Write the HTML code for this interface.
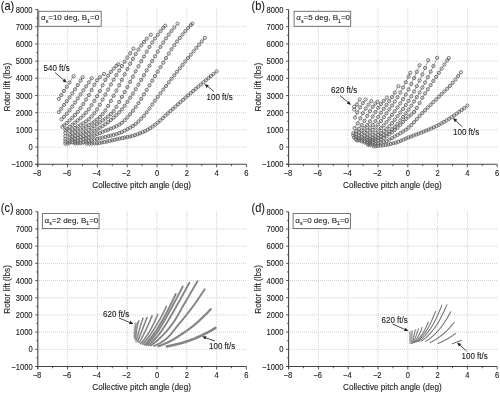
<!DOCTYPE html><html><head><meta charset="utf-8"><style>
html,body{margin:0;padding:0;background:#fff;overflow:hidden}
svg{display:block;filter:grayscale(100%) blur(0.3px)}
text{font-family:"Liberation Sans", sans-serif;fill:#1a1a1a;stroke:#1a1a1a;stroke-width:0.1}
.gr{stroke:#c8c8c8;stroke-width:0.85;stroke-dasharray:1 1}
.ax{stroke:#444;stroke-width:1.1}
.tk{stroke:#444;stroke-width:0.9}
.tl{font-size:7.6px}
.tt{font-size:8.2px}
.lb{font-size:11px}
.lg{font-size:8px}
.sub{font-size:5.2px}
.bx{fill:#fff;stroke:#666;stroke-width:0.9}
.ar{stroke:#333;stroke-width:0.9}
.mk circle{fill:none;stroke:#636363;stroke-width:0.9}
.ml{fill:none;stroke:#777;stroke-width:0.65}
.lc{fill:none;stroke:#858585;stroke-width:1.9;stroke-linecap:round}
.ld{fill:none;stroke:#707070;stroke-width:1.05;stroke-linecap:round}
.al{font-size:8px}
</style></head><body>
<svg width="500" height="393" viewBox="0 0 500 393">
<rect width="500" height="393" fill="#fff"/>
<g>
<line x1="67.60" y1="9" x2="67.60" y2="164.24" class="gr"/>
<line x1="97.40" y1="9" x2="97.40" y2="164.24" class="gr"/>
<line x1="127.20" y1="9" x2="127.20" y2="164.24" class="gr"/>
<line x1="157.00" y1="9" x2="157.00" y2="164.24" class="gr"/>
<line x1="186.80" y1="9" x2="186.80" y2="164.24" class="gr"/>
<line x1="216.60" y1="9" x2="216.60" y2="164.24" class="gr"/>
<line x1="37" y1="147.05" x2="246.40" y2="147.05" class="gr"/>
<line x1="37" y1="129.86" x2="246.40" y2="129.86" class="gr"/>
<line x1="37" y1="112.67" x2="246.40" y2="112.67" class="gr"/>
<line x1="37" y1="95.48" x2="246.40" y2="95.48" class="gr"/>
<line x1="37" y1="78.29" x2="246.40" y2="78.29" class="gr"/>
<line x1="37" y1="61.10" x2="246.40" y2="61.10" class="gr"/>
<line x1="37" y1="43.91" x2="246.40" y2="43.91" class="gr"/>
<line x1="37" y1="26.72" x2="246.40" y2="26.72" class="gr"/>
</g>
<g>
<line x1="318.40" y1="9" x2="318.40" y2="164.24" class="gr"/>
<line x1="348.20" y1="9" x2="348.20" y2="164.24" class="gr"/>
<line x1="378.00" y1="9" x2="378.00" y2="164.24" class="gr"/>
<line x1="407.80" y1="9" x2="407.80" y2="164.24" class="gr"/>
<line x1="437.60" y1="9" x2="437.60" y2="164.24" class="gr"/>
<line x1="467.40" y1="9" x2="467.40" y2="164.24" class="gr"/>
<line x1="288" y1="147.05" x2="497.20" y2="147.05" class="gr"/>
<line x1="288" y1="129.86" x2="497.20" y2="129.86" class="gr"/>
<line x1="288" y1="112.67" x2="497.20" y2="112.67" class="gr"/>
<line x1="288" y1="95.48" x2="497.20" y2="95.48" class="gr"/>
<line x1="288" y1="78.29" x2="497.20" y2="78.29" class="gr"/>
<line x1="288" y1="61.10" x2="497.20" y2="61.10" class="gr"/>
<line x1="288" y1="43.91" x2="497.20" y2="43.91" class="gr"/>
<line x1="288" y1="26.72" x2="497.20" y2="26.72" class="gr"/>
</g>
<g>
<line x1="67.60" y1="211" x2="67.60" y2="366.49" class="gr"/>
<line x1="97.40" y1="211" x2="97.40" y2="366.49" class="gr"/>
<line x1="127.20" y1="211" x2="127.20" y2="366.49" class="gr"/>
<line x1="157.00" y1="211" x2="157.00" y2="366.49" class="gr"/>
<line x1="186.80" y1="211" x2="186.80" y2="366.49" class="gr"/>
<line x1="216.60" y1="211" x2="216.60" y2="366.49" class="gr"/>
<line x1="37" y1="349.30" x2="246.40" y2="349.30" class="gr"/>
<line x1="37" y1="332.11" x2="246.40" y2="332.11" class="gr"/>
<line x1="37" y1="314.92" x2="246.40" y2="314.92" class="gr"/>
<line x1="37" y1="297.73" x2="246.40" y2="297.73" class="gr"/>
<line x1="37" y1="280.54" x2="246.40" y2="280.54" class="gr"/>
<line x1="37" y1="263.35" x2="246.40" y2="263.35" class="gr"/>
<line x1="37" y1="246.16" x2="246.40" y2="246.16" class="gr"/>
<line x1="37" y1="228.97" x2="246.40" y2="228.97" class="gr"/>
</g>
<g>
<line x1="318.40" y1="211" x2="318.40" y2="366.49" class="gr"/>
<line x1="348.20" y1="211" x2="348.20" y2="366.49" class="gr"/>
<line x1="378.00" y1="211" x2="378.00" y2="366.49" class="gr"/>
<line x1="407.80" y1="211" x2="407.80" y2="366.49" class="gr"/>
<line x1="437.60" y1="211" x2="437.60" y2="366.49" class="gr"/>
<line x1="467.40" y1="211" x2="467.40" y2="366.49" class="gr"/>
<line x1="288" y1="349.30" x2="497.20" y2="349.30" class="gr"/>
<line x1="288" y1="332.11" x2="497.20" y2="332.11" class="gr"/>
<line x1="288" y1="314.92" x2="497.20" y2="314.92" class="gr"/>
<line x1="288" y1="297.73" x2="497.20" y2="297.73" class="gr"/>
<line x1="288" y1="280.54" x2="497.20" y2="280.54" class="gr"/>
<line x1="288" y1="263.35" x2="497.20" y2="263.35" class="gr"/>
<line x1="288" y1="246.16" x2="497.20" y2="246.16" class="gr"/>
<line x1="288" y1="228.97" x2="497.20" y2="228.97" class="gr"/>
</g>
<g transform="translate(0,0)" class="mk">
<polyline class="ml" points="58.81,98.92 61.27,95.19 64.02,90.97 66.78,86.74 69.54,82.48 73.56,76.23"/>
<circle cx="58.81" cy="98.92" r="1.6"/>
<circle cx="61.27" cy="95.19" r="1.6"/>
<circle cx="64.02" cy="90.97" r="1.6"/>
<circle cx="66.78" cy="86.74" r="1.6"/>
<circle cx="69.54" cy="82.48" r="1.6"/>
<circle cx="73.56" cy="76.23" r="1.6"/>
<polyline class="ml" points="58.81,112.15 61.27,108.72 64.02,104.90 66.78,101.14 69.54,97.38 72.29,93.41 75.05,89.29 77.81,85.03 80.56,80.63 82.65,77.19"/>
<circle cx="58.81" cy="112.15" r="1.6"/>
<circle cx="61.27" cy="108.72" r="1.6"/>
<circle cx="64.02" cy="104.90" r="1.6"/>
<circle cx="66.78" cy="101.14" r="1.6"/>
<circle cx="69.54" cy="97.38" r="1.6"/>
<circle cx="72.29" cy="93.41" r="1.6"/>
<circle cx="75.05" cy="89.29" r="1.6"/>
<circle cx="77.81" cy="85.03" r="1.6"/>
<circle cx="80.56" cy="80.63" r="1.6"/>
<circle cx="82.65" cy="77.19" r="1.6"/>
<polyline class="ml" points="61.49,119.37 64.02,116.77 66.78,113.69 69.54,110.30 72.29,106.53 75.05,102.52 77.81,98.42 80.56,94.41 83.32,90.41 86.08,86.40 88.83,82.36 91.59,78.29"/>
<circle cx="61.49" cy="119.37" r="1.6"/>
<circle cx="64.02" cy="116.77" r="1.6"/>
<circle cx="66.78" cy="113.69" r="1.6"/>
<circle cx="69.54" cy="110.30" r="1.6"/>
<circle cx="72.29" cy="106.53" r="1.6"/>
<circle cx="75.05" cy="102.52" r="1.6"/>
<circle cx="77.81" cy="98.42" r="1.6"/>
<circle cx="80.56" cy="94.41" r="1.6"/>
<circle cx="83.32" cy="90.41" r="1.6"/>
<circle cx="86.08" cy="86.40" r="1.6"/>
<circle cx="88.83" cy="82.36" r="1.6"/>
<circle cx="91.59" cy="78.29" r="1.6"/>
<polyline class="ml" points="62.39,126.77 64.02,125.42 66.78,123.04 69.54,120.50 72.29,117.87 75.05,115.05 77.81,111.84 80.56,108.12 83.32,103.99 86.08,99.60 88.83,95.11 91.59,90.04 94.35,84.75 97.10,80.38 99.86,77.25 103.96,73.89"/>
<circle cx="62.39" cy="126.77" r="1.6"/>
<circle cx="64.02" cy="125.42" r="1.6"/>
<circle cx="66.78" cy="123.04" r="1.6"/>
<circle cx="69.54" cy="120.50" r="1.6"/>
<circle cx="72.29" cy="117.87" r="1.6"/>
<circle cx="75.05" cy="115.05" r="1.6"/>
<circle cx="77.81" cy="111.84" r="1.6"/>
<circle cx="80.56" cy="108.12" r="1.6"/>
<circle cx="83.32" cy="103.99" r="1.6"/>
<circle cx="86.08" cy="99.60" r="1.6"/>
<circle cx="88.83" cy="95.11" r="1.6"/>
<circle cx="91.59" cy="90.04" r="1.6"/>
<circle cx="94.35" cy="84.75" r="1.6"/>
<circle cx="97.10" cy="80.38" r="1.6"/>
<circle cx="99.86" cy="77.25" r="1.6"/>
<circle cx="103.96" cy="73.89" r="1.6"/>
<polyline class="ml" points="65.36,129.86 66.78,128.89 69.54,126.92 72.29,124.84 75.05,122.64 77.81,120.40 80.56,118.08 83.32,115.55 86.08,112.67 88.83,109.24 91.59,105.25 94.35,100.87 97.10,96.24 99.86,91.07 102.61,85.22 105.37,79.85 108.13,75.69 110.88,71.93 113.64,68.60 116.40,65.81 118.26,64.30"/>
<circle cx="65.36" cy="129.86" r="1.6"/>
<circle cx="66.78" cy="128.89" r="1.6"/>
<circle cx="69.54" cy="126.92" r="1.6"/>
<circle cx="72.29" cy="124.84" r="1.6"/>
<circle cx="75.05" cy="122.64" r="1.6"/>
<circle cx="77.81" cy="120.40" r="1.6"/>
<circle cx="80.56" cy="118.08" r="1.6"/>
<circle cx="83.32" cy="115.55" r="1.6"/>
<circle cx="86.08" cy="112.67" r="1.6"/>
<circle cx="88.83" cy="109.24" r="1.6"/>
<circle cx="91.59" cy="105.25" r="1.6"/>
<circle cx="94.35" cy="100.87" r="1.6"/>
<circle cx="97.10" cy="96.24" r="1.6"/>
<circle cx="99.86" cy="91.07" r="1.6"/>
<circle cx="102.61" cy="85.22" r="1.6"/>
<circle cx="105.37" cy="79.85" r="1.6"/>
<circle cx="108.13" cy="75.69" r="1.6"/>
<circle cx="110.88" cy="71.93" r="1.6"/>
<circle cx="113.64" cy="68.60" r="1.6"/>
<circle cx="116.40" cy="65.81" r="1.6"/>
<circle cx="118.26" cy="64.30" r="1.6"/>
<polyline class="ml" points="65.36,132.95 66.78,132.23 69.54,130.78 72.29,129.31 75.05,127.80 77.81,126.33 80.56,124.88 83.32,123.31 86.08,121.48 88.83,119.24 91.59,116.51 94.35,113.32 97.10,109.45 99.86,104.70 102.61,99.56 105.37,94.55 108.13,89.52 110.88,84.47 113.64,79.70 116.40,75.07 119.15,70.52 121.91,66.06 124.67,61.71 127.42,57.47 130.18,53.36 133.46,48.65"/>
<circle cx="65.36" cy="132.95" r="1.6"/>
<circle cx="69.54" cy="130.78" r="1.6"/>
<circle cx="72.29" cy="129.31" r="1.6"/>
<circle cx="75.05" cy="127.80" r="1.6"/>
<circle cx="77.81" cy="126.33" r="1.6"/>
<circle cx="80.56" cy="124.88" r="1.6"/>
<circle cx="83.32" cy="123.31" r="1.6"/>
<circle cx="86.08" cy="121.48" r="1.6"/>
<circle cx="88.83" cy="119.24" r="1.6"/>
<circle cx="91.59" cy="116.51" r="1.6"/>
<circle cx="94.35" cy="113.32" r="1.6"/>
<circle cx="97.10" cy="109.45" r="1.6"/>
<circle cx="99.86" cy="104.70" r="1.6"/>
<circle cx="102.61" cy="99.56" r="1.6"/>
<circle cx="105.37" cy="94.55" r="1.6"/>
<circle cx="108.13" cy="89.52" r="1.6"/>
<circle cx="110.88" cy="84.47" r="1.6"/>
<circle cx="113.64" cy="79.70" r="1.6"/>
<circle cx="116.40" cy="75.07" r="1.6"/>
<circle cx="119.15" cy="70.52" r="1.6"/>
<circle cx="121.91" cy="66.06" r="1.6"/>
<circle cx="124.67" cy="61.71" r="1.6"/>
<circle cx="127.42" cy="57.47" r="1.6"/>
<circle cx="130.18" cy="53.36" r="1.6"/>
<circle cx="133.46" cy="48.65" r="1.6"/>
<polyline class="ml" points="65.36,136.05 66.78,135.48 69.54,134.34 72.29,133.15 75.05,131.92 77.81,130.67 80.56,129.38 83.32,128.03 86.08,126.59 88.83,125.05 91.59,123.40 94.35,121.56 97.10,119.45 99.86,116.99 102.61,114.09 105.37,110.53 108.13,105.99 110.88,100.89 113.64,95.75 116.40,90.64 119.15,85.30 121.91,79.84 124.67,74.36 127.42,68.96 130.18,63.76 132.94,58.86 135.69,54.10 138.45,49.56 141.21,45.47 143.96,41.92 146.72,38.70 150.74,34.71"/>
<circle cx="65.36" cy="136.05" r="1.6"/>
<circle cx="69.54" cy="134.34" r="1.6"/>
<circle cx="72.29" cy="133.15" r="1.6"/>
<circle cx="75.05" cy="131.92" r="1.6"/>
<circle cx="77.81" cy="130.67" r="1.6"/>
<circle cx="80.56" cy="129.38" r="1.6"/>
<circle cx="83.32" cy="128.03" r="1.6"/>
<circle cx="86.08" cy="126.59" r="1.6"/>
<circle cx="88.83" cy="125.05" r="1.6"/>
<circle cx="91.59" cy="123.40" r="1.6"/>
<circle cx="94.35" cy="121.56" r="1.6"/>
<circle cx="97.10" cy="119.45" r="1.6"/>
<circle cx="99.86" cy="116.99" r="1.6"/>
<circle cx="102.61" cy="114.09" r="1.6"/>
<circle cx="105.37" cy="110.53" r="1.6"/>
<circle cx="108.13" cy="105.99" r="1.6"/>
<circle cx="110.88" cy="100.89" r="1.6"/>
<circle cx="113.64" cy="95.75" r="1.6"/>
<circle cx="116.40" cy="90.64" r="1.6"/>
<circle cx="119.15" cy="85.30" r="1.6"/>
<circle cx="121.91" cy="79.84" r="1.6"/>
<circle cx="124.67" cy="74.36" r="1.6"/>
<circle cx="127.42" cy="68.96" r="1.6"/>
<circle cx="130.18" cy="63.76" r="1.6"/>
<circle cx="132.94" cy="58.86" r="1.6"/>
<circle cx="135.69" cy="54.10" r="1.6"/>
<circle cx="138.45" cy="49.56" r="1.6"/>
<circle cx="141.21" cy="45.47" r="1.6"/>
<circle cx="143.96" cy="41.92" r="1.6"/>
<circle cx="146.72" cy="38.70" r="1.6"/>
<circle cx="150.74" cy="34.71" r="1.6"/>
<polyline class="ml" points="65.36,139.14 66.78,138.67 69.54,137.72 72.29,136.73 75.05,135.70 77.81,134.67 80.56,133.61 83.32,132.48 86.08,131.21 88.83,129.73 91.59,128.03 94.35,126.17 97.10,124.24 99.86,122.31 102.61,120.47 105.37,118.60 108.13,116.53 110.88,114.10 113.64,111.07 116.40,106.88 119.15,101.98 121.91,96.92 124.67,92.06 127.42,87.02 130.18,81.84 132.94,76.60 135.69,71.37 138.45,66.23 141.21,61.25 143.96,56.42 146.72,51.60 149.48,46.93 152.23,42.53 154.99,38.50 157.74,34.73 160.50,31.18 163.26,27.88 165.19,25.72"/>
<circle cx="65.36" cy="139.14" r="1.6"/>
<circle cx="69.54" cy="137.72" r="1.6"/>
<circle cx="72.29" cy="136.73" r="1.6"/>
<circle cx="75.05" cy="135.70" r="1.6"/>
<circle cx="77.81" cy="134.67" r="1.6"/>
<circle cx="80.56" cy="133.61" r="1.6"/>
<circle cx="83.32" cy="132.48" r="1.6"/>
<circle cx="86.08" cy="131.21" r="1.6"/>
<circle cx="88.83" cy="129.73" r="1.6"/>
<circle cx="91.59" cy="128.03" r="1.6"/>
<circle cx="94.35" cy="126.17" r="1.6"/>
<circle cx="97.10" cy="124.24" r="1.6"/>
<circle cx="99.86" cy="122.31" r="1.6"/>
<circle cx="102.61" cy="120.47" r="1.6"/>
<circle cx="105.37" cy="118.60" r="1.6"/>
<circle cx="108.13" cy="116.53" r="1.6"/>
<circle cx="110.88" cy="114.10" r="1.6"/>
<circle cx="113.64" cy="111.07" r="1.6"/>
<circle cx="116.40" cy="106.88" r="1.6"/>
<circle cx="119.15" cy="101.98" r="1.6"/>
<circle cx="121.91" cy="96.92" r="1.6"/>
<circle cx="124.67" cy="92.06" r="1.6"/>
<circle cx="127.42" cy="87.02" r="1.6"/>
<circle cx="130.18" cy="81.84" r="1.6"/>
<circle cx="132.94" cy="76.60" r="1.6"/>
<circle cx="135.69" cy="71.37" r="1.6"/>
<circle cx="138.45" cy="66.23" r="1.6"/>
<circle cx="141.21" cy="61.25" r="1.6"/>
<circle cx="143.96" cy="56.42" r="1.6"/>
<circle cx="146.72" cy="51.60" r="1.6"/>
<circle cx="149.48" cy="46.93" r="1.6"/>
<circle cx="152.23" cy="42.53" r="1.6"/>
<circle cx="154.99" cy="38.50" r="1.6"/>
<circle cx="157.74" cy="34.73" r="1.6"/>
<circle cx="160.50" cy="31.18" r="1.6"/>
<circle cx="163.26" cy="27.88" r="1.6"/>
<circle cx="165.19" cy="25.72" r="1.6"/>
<polyline class="ml" points="65.36,141.55 66.78,141.17 69.54,140.42 72.29,139.63 75.05,138.80 77.81,137.96 80.56,137.10 83.32,136.18 86.08,135.14 88.83,133.95 91.59,132.61 94.35,131.14 97.10,129.54 99.86,127.85 102.61,126.06 105.37,124.18 108.13,122.17 110.88,120.00 113.64,117.67 116.40,115.14 119.15,112.40 121.91,109.35 124.67,105.77 127.42,101.84 130.18,97.72 132.94,93.55 135.69,89.18 138.45,84.62 141.21,79.92 143.96,75.17 146.72,70.41 149.48,65.71 152.23,61.07 154.99,56.33 157.74,51.57 160.50,46.92 163.26,42.50 166.01,38.42 168.77,34.58 171.53,30.92 174.28,27.47 177.56,23.64"/>
<circle cx="65.36" cy="141.55" r="1.6"/>
<circle cx="69.54" cy="140.42" r="1.6"/>
<circle cx="72.29" cy="139.63" r="1.6"/>
<circle cx="75.05" cy="138.80" r="1.6"/>
<circle cx="77.81" cy="137.96" r="1.6"/>
<circle cx="80.56" cy="137.10" r="1.6"/>
<circle cx="83.32" cy="136.18" r="1.6"/>
<circle cx="86.08" cy="135.14" r="1.6"/>
<circle cx="88.83" cy="133.95" r="1.6"/>
<circle cx="91.59" cy="132.61" r="1.6"/>
<circle cx="94.35" cy="131.14" r="1.6"/>
<circle cx="97.10" cy="129.54" r="1.6"/>
<circle cx="99.86" cy="127.85" r="1.6"/>
<circle cx="102.61" cy="126.06" r="1.6"/>
<circle cx="105.37" cy="124.18" r="1.6"/>
<circle cx="108.13" cy="122.17" r="1.6"/>
<circle cx="110.88" cy="120.00" r="1.6"/>
<circle cx="113.64" cy="117.67" r="1.6"/>
<circle cx="116.40" cy="115.14" r="1.6"/>
<circle cx="119.15" cy="112.40" r="1.6"/>
<circle cx="121.91" cy="109.35" r="1.6"/>
<circle cx="124.67" cy="105.77" r="1.6"/>
<circle cx="127.42" cy="101.84" r="1.6"/>
<circle cx="130.18" cy="97.72" r="1.6"/>
<circle cx="132.94" cy="93.55" r="1.6"/>
<circle cx="135.69" cy="89.18" r="1.6"/>
<circle cx="138.45" cy="84.62" r="1.6"/>
<circle cx="141.21" cy="79.92" r="1.6"/>
<circle cx="143.96" cy="75.17" r="1.6"/>
<circle cx="146.72" cy="70.41" r="1.6"/>
<circle cx="149.48" cy="65.71" r="1.6"/>
<circle cx="152.23" cy="61.07" r="1.6"/>
<circle cx="154.99" cy="56.33" r="1.6"/>
<circle cx="157.74" cy="51.57" r="1.6"/>
<circle cx="160.50" cy="46.92" r="1.6"/>
<circle cx="163.26" cy="42.50" r="1.6"/>
<circle cx="166.01" cy="38.42" r="1.6"/>
<circle cx="168.77" cy="34.58" r="1.6"/>
<circle cx="171.53" cy="30.92" r="1.6"/>
<circle cx="174.28" cy="27.47" r="1.6"/>
<circle cx="177.56" cy="23.64" r="1.6"/>
<polyline class="ml" points="65.36,143.61 66.78,143.34 69.54,142.79 72.29,142.19 75.05,141.55 77.81,140.88 80.56,140.16 83.32,139.39 86.08,138.55 88.83,137.61 91.59,136.57 94.35,135.45 97.10,134.28 99.86,133.09 102.61,131.90 105.37,130.75 108.13,129.68 110.88,128.61 113.64,127.47 116.40,126.19 119.15,124.68 121.91,122.77 124.67,120.21 127.42,117.33 130.18,114.20 132.94,110.74 135.69,107.03 138.45,103.12 141.21,98.91 143.96,94.39 146.72,89.89 149.48,85.34 152.23,80.76 154.99,76.19 157.74,71.63 160.50,67.11 163.26,62.64 166.01,58.09 168.77,53.56 171.53,49.23 174.28,45.25 177.04,41.51 179.80,37.90 182.55,34.43 185.31,31.13 188.07,28.02 190.82,25.12 192.31,23.64"/>
<circle cx="65.36" cy="143.61" r="1.6"/>
<circle cx="69.54" cy="142.79" r="1.6"/>
<circle cx="72.29" cy="142.19" r="1.6"/>
<circle cx="75.05" cy="141.55" r="1.6"/>
<circle cx="77.81" cy="140.88" r="1.6"/>
<circle cx="80.56" cy="140.16" r="1.6"/>
<circle cx="83.32" cy="139.39" r="1.6"/>
<circle cx="86.08" cy="138.55" r="1.6"/>
<circle cx="88.83" cy="137.61" r="1.6"/>
<circle cx="91.59" cy="136.57" r="1.6"/>
<circle cx="94.35" cy="135.45" r="1.6"/>
<circle cx="97.10" cy="134.28" r="1.6"/>
<circle cx="99.86" cy="133.09" r="1.6"/>
<circle cx="102.61" cy="131.90" r="1.6"/>
<circle cx="105.37" cy="130.75" r="1.6"/>
<circle cx="108.13" cy="129.68" r="1.6"/>
<circle cx="110.88" cy="128.61" r="1.6"/>
<circle cx="113.64" cy="127.47" r="1.6"/>
<circle cx="116.40" cy="126.19" r="1.6"/>
<circle cx="119.15" cy="124.68" r="1.6"/>
<circle cx="121.91" cy="122.77" r="1.6"/>
<circle cx="124.67" cy="120.21" r="1.6"/>
<circle cx="127.42" cy="117.33" r="1.6"/>
<circle cx="130.18" cy="114.20" r="1.6"/>
<circle cx="132.94" cy="110.74" r="1.6"/>
<circle cx="135.69" cy="107.03" r="1.6"/>
<circle cx="138.45" cy="103.12" r="1.6"/>
<circle cx="141.21" cy="98.91" r="1.6"/>
<circle cx="143.96" cy="94.39" r="1.6"/>
<circle cx="146.72" cy="89.89" r="1.6"/>
<circle cx="149.48" cy="85.34" r="1.6"/>
<circle cx="152.23" cy="80.76" r="1.6"/>
<circle cx="154.99" cy="76.19" r="1.6"/>
<circle cx="157.74" cy="71.63" r="1.6"/>
<circle cx="160.50" cy="67.11" r="1.6"/>
<circle cx="163.26" cy="62.64" r="1.6"/>
<circle cx="166.01" cy="58.09" r="1.6"/>
<circle cx="168.77" cy="53.56" r="1.6"/>
<circle cx="171.53" cy="49.23" r="1.6"/>
<circle cx="174.28" cy="45.25" r="1.6"/>
<circle cx="177.04" cy="41.51" r="1.6"/>
<circle cx="179.80" cy="37.90" r="1.6"/>
<circle cx="182.55" cy="34.43" r="1.6"/>
<circle cx="185.31" cy="31.13" r="1.6"/>
<circle cx="188.07" cy="28.02" r="1.6"/>
<circle cx="190.82" cy="25.12" r="1.6"/>
<circle cx="192.31" cy="23.64" r="1.6"/>
<polyline class="ml" points="67.60,143.61 69.54,143.61 72.29,143.57 75.05,143.51 77.81,143.42 80.56,143.24 83.32,142.51 86.08,141.63 88.83,140.94 91.59,140.27 94.35,139.62 97.10,138.97 99.86,138.30 102.61,137.61 105.37,136.91 108.13,136.24 110.88,135.55 113.64,134.83 116.40,134.03 119.15,133.14 121.91,132.06 124.67,130.71 127.42,129.22 130.18,127.67 132.94,125.95 135.69,123.95 138.45,121.54 141.21,118.74 143.96,115.68 146.72,112.30 149.48,108.47 152.23,104.48 154.99,100.59 157.74,96.90 160.50,93.23 163.26,89.58 166.01,85.96 168.77,82.36 171.53,78.80 174.28,75.26 177.04,71.75 179.80,68.27 182.55,64.82 185.31,61.40 188.07,58.00 190.82,54.62 193.58,51.28 196.34,47.95 199.09,44.66 201.85,41.39 204.83,37.89"/>
<circle cx="67.60" cy="143.61" r="1.6"/>
<circle cx="75.05" cy="143.51" r="1.6"/>
<circle cx="77.81" cy="143.42" r="1.6"/>
<circle cx="80.56" cy="143.24" r="1.6"/>
<circle cx="83.32" cy="142.51" r="1.6"/>
<circle cx="86.08" cy="141.63" r="1.6"/>
<circle cx="88.83" cy="140.94" r="1.6"/>
<circle cx="91.59" cy="140.27" r="1.6"/>
<circle cx="94.35" cy="139.62" r="1.6"/>
<circle cx="97.10" cy="138.97" r="1.6"/>
<circle cx="99.86" cy="138.30" r="1.6"/>
<circle cx="102.61" cy="137.61" r="1.6"/>
<circle cx="105.37" cy="136.91" r="1.6"/>
<circle cx="108.13" cy="136.24" r="1.6"/>
<circle cx="110.88" cy="135.55" r="1.6"/>
<circle cx="113.64" cy="134.83" r="1.6"/>
<circle cx="116.40" cy="134.03" r="1.6"/>
<circle cx="119.15" cy="133.14" r="1.6"/>
<circle cx="121.91" cy="132.06" r="1.6"/>
<circle cx="124.67" cy="130.71" r="1.6"/>
<circle cx="127.42" cy="129.22" r="1.6"/>
<circle cx="130.18" cy="127.67" r="1.6"/>
<circle cx="132.94" cy="125.95" r="1.6"/>
<circle cx="135.69" cy="123.95" r="1.6"/>
<circle cx="138.45" cy="121.54" r="1.6"/>
<circle cx="141.21" cy="118.74" r="1.6"/>
<circle cx="143.96" cy="115.68" r="1.6"/>
<circle cx="146.72" cy="112.30" r="1.6"/>
<circle cx="149.48" cy="108.47" r="1.6"/>
<circle cx="152.23" cy="104.48" r="1.6"/>
<circle cx="154.99" cy="100.59" r="1.6"/>
<circle cx="157.74" cy="96.90" r="1.6"/>
<circle cx="160.50" cy="93.23" r="1.6"/>
<circle cx="163.26" cy="89.58" r="1.6"/>
<circle cx="166.01" cy="85.96" r="1.6"/>
<circle cx="168.77" cy="82.36" r="1.6"/>
<circle cx="171.53" cy="78.80" r="1.6"/>
<circle cx="174.28" cy="75.26" r="1.6"/>
<circle cx="177.04" cy="71.75" r="1.6"/>
<circle cx="179.80" cy="68.27" r="1.6"/>
<circle cx="182.55" cy="64.82" r="1.6"/>
<circle cx="185.31" cy="61.40" r="1.6"/>
<circle cx="188.07" cy="58.00" r="1.6"/>
<circle cx="190.82" cy="54.62" r="1.6"/>
<circle cx="193.58" cy="51.28" r="1.6"/>
<circle cx="196.34" cy="47.95" r="1.6"/>
<circle cx="199.09" cy="44.66" r="1.6"/>
<circle cx="201.85" cy="41.39" r="1.6"/>
<circle cx="204.83" cy="37.89" r="1.6"/>
<polyline class="ml" points="73.56,143.70 76.69,143.69 79.22,143.68 81.75,143.66 84.29,143.63 86.82,143.61 89.35,143.57 91.89,143.51 94.42,143.42 96.95,143.28 99.49,142.94 102.02,142.48 104.55,142.02 107.08,141.51 109.62,140.95 112.15,140.36 114.68,139.76 117.22,139.16 119.75,138.59 122.28,138.06 124.82,137.56 127.35,137.06 129.88,136.51 132.41,135.87 134.95,135.13 137.48,134.29 140.01,133.34 142.55,132.29 145.08,131.12 147.61,129.75 150.15,128.17 152.68,126.44 155.21,124.59 157.74,122.66 160.28,120.50 162.81,118.16 165.34,115.73 167.88,113.35 170.41,111.06 172.94,108.79 175.48,106.52 178.01,104.26 180.54,102.01 183.07,99.77 185.61,97.55 188.14,95.35 190.67,93.16 193.21,90.99 195.74,88.82 198.27,86.66 200.81,84.52 203.34,82.39 205.87,80.26 208.40,78.15 210.94,76.06 213.47,73.97 216.60,71.41"/>
<circle cx="86.82" cy="143.61" r="1.6"/>
<circle cx="89.35" cy="143.57" r="1.6"/>
<circle cx="91.89" cy="143.51" r="1.6"/>
<circle cx="94.42" cy="143.42" r="1.6"/>
<circle cx="96.95" cy="143.28" r="1.6"/>
<circle cx="99.49" cy="142.94" r="1.6"/>
<circle cx="102.02" cy="142.48" r="1.6"/>
<circle cx="104.55" cy="142.02" r="1.6"/>
<circle cx="107.08" cy="141.51" r="1.6"/>
<circle cx="109.62" cy="140.95" r="1.6"/>
<circle cx="112.15" cy="140.36" r="1.6"/>
<circle cx="114.68" cy="139.76" r="1.6"/>
<circle cx="117.22" cy="139.16" r="1.6"/>
<circle cx="119.75" cy="138.59" r="1.6"/>
<circle cx="122.28" cy="138.06" r="1.6"/>
<circle cx="124.82" cy="137.56" r="1.6"/>
<circle cx="127.35" cy="137.06" r="1.6"/>
<circle cx="129.88" cy="136.51" r="1.6"/>
<circle cx="132.41" cy="135.87" r="1.6"/>
<circle cx="134.95" cy="135.13" r="1.6"/>
<circle cx="137.48" cy="134.29" r="1.6"/>
<circle cx="140.01" cy="133.34" r="1.6"/>
<circle cx="142.55" cy="132.29" r="1.6"/>
<circle cx="145.08" cy="131.12" r="1.6"/>
<circle cx="147.61" cy="129.75" r="1.6"/>
<circle cx="150.15" cy="128.17" r="1.6"/>
<circle cx="152.68" cy="126.44" r="1.6"/>
<circle cx="155.21" cy="124.59" r="1.6"/>
<circle cx="157.74" cy="122.66" r="1.6"/>
<circle cx="160.28" cy="120.50" r="1.6"/>
<circle cx="162.81" cy="118.16" r="1.6"/>
<circle cx="165.34" cy="115.73" r="1.6"/>
<circle cx="167.88" cy="113.35" r="1.6"/>
<circle cx="170.41" cy="111.06" r="1.6"/>
<circle cx="172.94" cy="108.79" r="1.6"/>
<circle cx="175.48" cy="106.52" r="1.6"/>
<circle cx="178.01" cy="104.26" r="1.6"/>
<circle cx="180.54" cy="102.01" r="1.6"/>
<circle cx="183.07" cy="99.77" r="1.6"/>
<circle cx="185.61" cy="97.55" r="1.6"/>
<circle cx="188.14" cy="95.35" r="1.6"/>
<circle cx="190.67" cy="93.16" r="1.6"/>
<circle cx="193.21" cy="90.99" r="1.6"/>
<circle cx="195.74" cy="88.82" r="1.6"/>
<circle cx="198.27" cy="86.66" r="1.6"/>
<circle cx="200.81" cy="84.52" r="1.6"/>
<circle cx="203.34" cy="82.39" r="1.6"/>
<circle cx="205.87" cy="80.26" r="1.6"/>
<circle cx="208.40" cy="78.15" r="1.6"/>
<circle cx="210.94" cy="76.06" r="1.6"/>
<circle cx="213.47" cy="73.97" r="1.6"/>
<circle cx="216.60" cy="71.41" r="1.6"/>
</g>
<g transform="translate(250.8,0)" class="mk">
<polyline class="ml" points="103.36,106.74"/>
<circle cx="103.36" cy="106.74" r="1.6"/>
<polyline class="ml" points="108.87,99.52 106.12,104.47 103.48,109.48"/>
<circle cx="108.87" cy="99.52" r="1.6"/>
<circle cx="106.12" cy="104.47" r="1.6"/>
<circle cx="103.48" cy="109.48" r="1.6"/>
<polyline class="ml" points="114.83,99.52 112.04,103.14 109.21,107.46 106.47,112.41 104.18,117.59"/>
<circle cx="114.83" cy="99.52" r="1.6"/>
<circle cx="112.04" cy="103.14" r="1.6"/>
<circle cx="109.21" cy="107.46" r="1.6"/>
<circle cx="106.47" cy="112.41" r="1.6"/>
<circle cx="104.18" cy="117.59" r="1.6"/>
<polyline class="ml" points="120.50,101.15 117.66,104.60 114.82,108.61 111.99,113.21 109.48,118.29 106.89,123.31 103.81,128.07"/>
<circle cx="120.50" cy="101.15" r="1.6"/>
<circle cx="117.66" cy="104.60" r="1.6"/>
<circle cx="114.82" cy="108.61" r="1.6"/>
<circle cx="111.99" cy="113.21" r="1.6"/>
<circle cx="109.48" cy="118.29" r="1.6"/>
<circle cx="106.89" cy="123.31" r="1.6"/>
<circle cx="103.81" cy="128.07" r="1.6"/>
<polyline class="ml" points="102.47,133.30 105.37,131.30 108.13,128.69 110.88,125.10 113.64,120.82 116.40,115.89 119.15,111.20 121.91,106.86 124.67,103.65 126.75,101.84"/>
<circle cx="102.47" cy="133.30" r="1.6"/>
<circle cx="105.37" cy="131.30" r="1.6"/>
<circle cx="108.13" cy="128.69" r="1.6"/>
<circle cx="110.88" cy="125.10" r="1.6"/>
<circle cx="113.64" cy="120.82" r="1.6"/>
<circle cx="116.40" cy="115.89" r="1.6"/>
<circle cx="119.15" cy="111.20" r="1.6"/>
<circle cx="121.91" cy="106.86" r="1.6"/>
<circle cx="124.67" cy="103.65" r="1.6"/>
<circle cx="126.75" cy="101.84" r="1.6"/>
<polyline class="ml" points="102.47,135.36 105.37,134.03 108.13,132.38 110.88,130.43 113.64,128.03 116.40,125.14 119.15,121.29 121.91,116.51 124.67,111.99 127.42,107.84 130.18,104.08 132.94,100.82 136.14,97.54"/>
<circle cx="102.47" cy="135.36" r="1.6"/>
<circle cx="105.37" cy="134.03" r="1.6"/>
<circle cx="108.13" cy="132.38" r="1.6"/>
<circle cx="110.88" cy="130.43" r="1.6"/>
<circle cx="113.64" cy="128.03" r="1.6"/>
<circle cx="116.40" cy="125.14" r="1.6"/>
<circle cx="119.15" cy="121.29" r="1.6"/>
<circle cx="121.91" cy="116.51" r="1.6"/>
<circle cx="124.67" cy="111.99" r="1.6"/>
<circle cx="127.42" cy="107.84" r="1.6"/>
<circle cx="130.18" cy="104.08" r="1.6"/>
<circle cx="132.94" cy="100.82" r="1.6"/>
<circle cx="136.14" cy="97.54" r="1.6"/>
<polyline class="ml" points="103.36,137.42 105.37,136.79 108.13,135.60 110.88,134.13 113.64,132.43 116.40,130.29 119.15,127.73 121.91,124.80 124.67,121.08 127.42,116.85 130.18,112.67 132.94,108.81 135.69,105.02 138.45,101.17 141.21,97.10 143.96,92.67 147.61,86.20"/>
<circle cx="103.36" cy="137.42" r="1.6"/>
<circle cx="105.37" cy="136.79" r="1.6"/>
<circle cx="108.13" cy="135.60" r="1.6"/>
<circle cx="110.88" cy="134.13" r="1.6"/>
<circle cx="113.64" cy="132.43" r="1.6"/>
<circle cx="116.40" cy="130.29" r="1.6"/>
<circle cx="119.15" cy="127.73" r="1.6"/>
<circle cx="121.91" cy="124.80" r="1.6"/>
<circle cx="124.67" cy="121.08" r="1.6"/>
<circle cx="127.42" cy="116.85" r="1.6"/>
<circle cx="130.18" cy="112.67" r="1.6"/>
<circle cx="132.94" cy="108.81" r="1.6"/>
<circle cx="135.69" cy="105.02" r="1.6"/>
<circle cx="138.45" cy="101.17" r="1.6"/>
<circle cx="141.21" cy="97.10" r="1.6"/>
<circle cx="143.96" cy="92.67" r="1.6"/>
<circle cx="147.61" cy="86.20" r="1.6"/>
<polyline class="ml" points="104.85,139.14 108.13,138.27 110.88,137.19 113.64,135.87 116.40,134.37 119.15,132.44 121.91,130.10 124.67,127.47 127.42,124.54 130.18,121.05 132.94,117.22 135.69,113.30 138.45,109.45 141.21,105.56 143.96,101.51 146.72,97.20 149.48,92.54 152.23,87.54 154.99,82.21 157.75,76.58 159.53,72.79"/>
<circle cx="104.85" cy="139.14" r="1.6"/>
<circle cx="108.13" cy="138.27" r="1.6"/>
<circle cx="110.88" cy="137.19" r="1.6"/>
<circle cx="113.64" cy="135.87" r="1.6"/>
<circle cx="116.40" cy="134.37" r="1.6"/>
<circle cx="119.15" cy="132.44" r="1.6"/>
<circle cx="121.91" cy="130.10" r="1.6"/>
<circle cx="124.67" cy="127.47" r="1.6"/>
<circle cx="127.42" cy="124.54" r="1.6"/>
<circle cx="130.18" cy="121.05" r="1.6"/>
<circle cx="132.94" cy="117.22" r="1.6"/>
<circle cx="135.69" cy="113.30" r="1.6"/>
<circle cx="138.45" cy="109.45" r="1.6"/>
<circle cx="141.21" cy="105.56" r="1.6"/>
<circle cx="143.96" cy="101.51" r="1.6"/>
<circle cx="146.72" cy="97.20" r="1.6"/>
<circle cx="149.48" cy="92.54" r="1.6"/>
<circle cx="152.23" cy="87.54" r="1.6"/>
<circle cx="154.99" cy="82.21" r="1.6"/>
<circle cx="157.75" cy="76.58" r="1.6"/>
<circle cx="159.53" cy="72.79" r="1.6"/>
<polyline class="ml" points="106.34,140.52 108.13,140.24 110.88,139.56 113.64,138.64 116.40,137.54 119.15,136.32 121.91,134.74 124.67,132.79 127.42,130.56 130.18,128.14 132.94,125.36 135.69,122.12 138.45,118.58 141.21,114.88 143.96,111.17 146.72,107.40 149.48,103.44 152.23,99.20 154.99,94.57 157.75,89.50 160.50,84.01 163.26,78.12 166.01,71.85 168.77,65.23"/>
<circle cx="106.34" cy="140.52" r="1.6"/>
<circle cx="108.13" cy="140.24" r="1.6"/>
<circle cx="110.88" cy="139.56" r="1.6"/>
<circle cx="113.64" cy="138.64" r="1.6"/>
<circle cx="116.40" cy="137.54" r="1.6"/>
<circle cx="119.15" cy="136.32" r="1.6"/>
<circle cx="121.91" cy="134.74" r="1.6"/>
<circle cx="124.67" cy="132.79" r="1.6"/>
<circle cx="127.42" cy="130.56" r="1.6"/>
<circle cx="130.18" cy="128.14" r="1.6"/>
<circle cx="132.94" cy="125.36" r="1.6"/>
<circle cx="135.69" cy="122.12" r="1.6"/>
<circle cx="138.45" cy="118.58" r="1.6"/>
<circle cx="141.21" cy="114.88" r="1.6"/>
<circle cx="143.96" cy="111.17" r="1.6"/>
<circle cx="146.72" cy="107.40" r="1.6"/>
<circle cx="149.48" cy="103.44" r="1.6"/>
<circle cx="152.23" cy="99.20" r="1.6"/>
<circle cx="154.99" cy="94.57" r="1.6"/>
<circle cx="157.75" cy="89.50" r="1.6"/>
<circle cx="160.50" cy="84.01" r="1.6"/>
<circle cx="163.26" cy="78.12" r="1.6"/>
<circle cx="166.01" cy="71.85" r="1.6"/>
<circle cx="168.77" cy="65.23" r="1.6"/>
<polyline class="ml" points="108.58,141.72 110.88,141.35 113.64,140.70 116.40,139.87 119.15,138.90 121.91,137.84 124.67,136.56 127.42,135.00 130.18,133.21 132.94,131.20 135.69,128.98 138.45,126.30 141.21,123.19 143.96,119.78 146.72,116.20 149.48,112.57 152.23,108.89 154.99,105.02 157.75,100.87 160.50,96.38 163.26,91.47 166.01,86.17 168.77,80.47 171.53,74.41 174.28,67.97 177.41,60.24"/>
<circle cx="110.88" cy="141.35" r="1.6"/>
<circle cx="113.64" cy="140.70" r="1.6"/>
<circle cx="116.40" cy="139.87" r="1.6"/>
<circle cx="119.15" cy="138.90" r="1.6"/>
<circle cx="121.91" cy="137.84" r="1.6"/>
<circle cx="124.67" cy="136.56" r="1.6"/>
<circle cx="127.42" cy="135.00" r="1.6"/>
<circle cx="130.18" cy="133.21" r="1.6"/>
<circle cx="132.94" cy="131.20" r="1.6"/>
<circle cx="135.69" cy="128.98" r="1.6"/>
<circle cx="138.45" cy="126.30" r="1.6"/>
<circle cx="141.21" cy="123.19" r="1.6"/>
<circle cx="143.96" cy="119.78" r="1.6"/>
<circle cx="146.72" cy="116.20" r="1.6"/>
<circle cx="149.48" cy="112.57" r="1.6"/>
<circle cx="152.23" cy="108.89" r="1.6"/>
<circle cx="154.99" cy="105.02" r="1.6"/>
<circle cx="157.75" cy="100.87" r="1.6"/>
<circle cx="160.50" cy="96.38" r="1.6"/>
<circle cx="163.26" cy="91.47" r="1.6"/>
<circle cx="166.01" cy="86.17" r="1.6"/>
<circle cx="168.77" cy="80.47" r="1.6"/>
<circle cx="171.53" cy="74.41" r="1.6"/>
<circle cx="174.28" cy="67.97" r="1.6"/>
<circle cx="177.41" cy="60.24" r="1.6"/>
<polyline class="ml" points="110.81,142.75 113.64,142.33 116.40,141.72 119.15,140.97 121.91,140.10 124.67,139.15 127.42,138.03 130.18,136.69 132.94,135.15 135.69,133.40 138.45,131.48 141.21,129.38 143.96,126.85 146.72,123.85 149.48,120.52 152.23,116.98 154.99,113.35 157.75,109.65 160.50,105.70 163.26,101.51 166.01,97.09 168.77,92.44 171.53,87.59 174.28,82.53 177.04,77.26 179.80,71.77 182.55,66.07 186.35,57.83"/>
<circle cx="113.64" cy="142.33" r="1.6"/>
<circle cx="116.40" cy="141.72" r="1.6"/>
<circle cx="119.15" cy="140.97" r="1.6"/>
<circle cx="121.91" cy="140.10" r="1.6"/>
<circle cx="124.67" cy="139.15" r="1.6"/>
<circle cx="127.42" cy="138.03" r="1.6"/>
<circle cx="130.18" cy="136.69" r="1.6"/>
<circle cx="132.94" cy="135.15" r="1.6"/>
<circle cx="135.69" cy="133.40" r="1.6"/>
<circle cx="138.45" cy="131.48" r="1.6"/>
<circle cx="141.21" cy="129.38" r="1.6"/>
<circle cx="143.96" cy="126.85" r="1.6"/>
<circle cx="146.72" cy="123.85" r="1.6"/>
<circle cx="149.48" cy="120.52" r="1.6"/>
<circle cx="152.23" cy="116.98" r="1.6"/>
<circle cx="154.99" cy="113.35" r="1.6"/>
<circle cx="157.75" cy="109.65" r="1.6"/>
<circle cx="160.50" cy="105.70" r="1.6"/>
<circle cx="163.26" cy="101.51" r="1.6"/>
<circle cx="166.01" cy="97.09" r="1.6"/>
<circle cx="168.77" cy="92.44" r="1.6"/>
<circle cx="171.53" cy="87.59" r="1.6"/>
<circle cx="174.28" cy="82.53" r="1.6"/>
<circle cx="177.04" cy="77.26" r="1.6"/>
<circle cx="179.80" cy="71.77" r="1.6"/>
<circle cx="182.55" cy="66.07" r="1.6"/>
<circle cx="186.35" cy="57.83" r="1.6"/>
<polyline class="ml" points="113.79,143.78 116.40,143.48 119.15,142.93 121.91,142.22 124.67,141.37 127.42,140.44 130.18,139.29 132.94,137.83 135.69,136.12 138.45,134.22 141.21,132.17 143.96,130.04 146.72,127.71 149.48,124.92 152.23,121.95 154.99,119.06 157.75,116.56 160.50,114.55 163.26,112.00 166.01,107.95 168.77,102.95 171.53,97.85 174.28,93.40 177.04,89.28 179.80,85.18 182.55,81.05 185.31,76.92 188.07,72.80 190.82,68.68 193.58,64.56 196.34,60.45 197.97,58.01"/>
<circle cx="116.40" cy="143.48" r="1.6"/>
<circle cx="119.15" cy="142.93" r="1.6"/>
<circle cx="121.91" cy="142.22" r="1.6"/>
<circle cx="124.67" cy="141.37" r="1.6"/>
<circle cx="127.42" cy="140.44" r="1.6"/>
<circle cx="130.18" cy="139.29" r="1.6"/>
<circle cx="132.94" cy="137.83" r="1.6"/>
<circle cx="135.69" cy="136.12" r="1.6"/>
<circle cx="138.45" cy="134.22" r="1.6"/>
<circle cx="141.21" cy="132.17" r="1.6"/>
<circle cx="143.96" cy="130.04" r="1.6"/>
<circle cx="146.72" cy="127.71" r="1.6"/>
<circle cx="149.48" cy="124.92" r="1.6"/>
<circle cx="152.23" cy="121.95" r="1.6"/>
<circle cx="154.99" cy="119.06" r="1.6"/>
<circle cx="157.75" cy="116.56" r="1.6"/>
<circle cx="160.50" cy="114.55" r="1.6"/>
<circle cx="163.26" cy="112.00" r="1.6"/>
<circle cx="166.01" cy="107.95" r="1.6"/>
<circle cx="168.77" cy="102.95" r="1.6"/>
<circle cx="171.53" cy="97.85" r="1.6"/>
<circle cx="174.28" cy="93.40" r="1.6"/>
<circle cx="177.04" cy="89.28" r="1.6"/>
<circle cx="179.80" cy="85.18" r="1.6"/>
<circle cx="182.55" cy="81.05" r="1.6"/>
<circle cx="185.31" cy="76.92" r="1.6"/>
<circle cx="188.07" cy="72.80" r="1.6"/>
<circle cx="190.82" cy="68.68" r="1.6"/>
<circle cx="193.58" cy="64.56" r="1.6"/>
<circle cx="196.34" cy="60.45" r="1.6"/>
<circle cx="197.97" cy="58.01" r="1.6"/>
<polyline class="ml" points="117.52,144.82 119.15,144.77 121.91,144.51 124.67,144.05 127.42,143.43 130.18,142.70 132.94,141.89 135.69,141.02 138.45,139.74 141.21,138.16 143.96,136.49 146.72,134.90 149.48,133.30 152.23,131.60 154.99,129.73 157.75,127.62 160.50,125.08 163.26,122.19 166.01,119.12 168.77,116.01 171.53,113.05 174.28,110.27 177.04,107.52 179.80,104.81 182.55,102.11 185.31,99.42 188.07,96.72 190.82,94.04 193.58,91.43 196.34,88.78 199.09,85.93 201.85,82.84 204.61,79.54 207.36,76.05 210.19,72.27"/>
<circle cx="117.52" cy="144.82" r="1.6"/>
<circle cx="119.15" cy="144.77" r="1.6"/>
<circle cx="121.91" cy="144.51" r="1.6"/>
<circle cx="124.67" cy="144.05" r="1.6"/>
<circle cx="127.42" cy="143.43" r="1.6"/>
<circle cx="130.18" cy="142.70" r="1.6"/>
<circle cx="132.94" cy="141.89" r="1.6"/>
<circle cx="135.69" cy="141.02" r="1.6"/>
<circle cx="138.45" cy="139.74" r="1.6"/>
<circle cx="141.21" cy="138.16" r="1.6"/>
<circle cx="143.96" cy="136.49" r="1.6"/>
<circle cx="146.72" cy="134.90" r="1.6"/>
<circle cx="149.48" cy="133.30" r="1.6"/>
<circle cx="152.23" cy="131.60" r="1.6"/>
<circle cx="154.99" cy="129.73" r="1.6"/>
<circle cx="157.75" cy="127.62" r="1.6"/>
<circle cx="160.50" cy="125.08" r="1.6"/>
<circle cx="163.26" cy="122.19" r="1.6"/>
<circle cx="166.01" cy="119.12" r="1.6"/>
<circle cx="168.77" cy="116.01" r="1.6"/>
<circle cx="171.53" cy="113.05" r="1.6"/>
<circle cx="174.28" cy="110.27" r="1.6"/>
<circle cx="177.04" cy="107.52" r="1.6"/>
<circle cx="179.80" cy="104.81" r="1.6"/>
<circle cx="182.55" cy="102.11" r="1.6"/>
<circle cx="185.31" cy="99.42" r="1.6"/>
<circle cx="188.07" cy="96.72" r="1.6"/>
<circle cx="190.82" cy="94.04" r="1.6"/>
<circle cx="193.58" cy="91.43" r="1.6"/>
<circle cx="196.34" cy="88.78" r="1.6"/>
<circle cx="199.09" cy="85.93" r="1.6"/>
<circle cx="201.85" cy="82.84" r="1.6"/>
<circle cx="204.61" cy="79.54" r="1.6"/>
<circle cx="207.36" cy="76.05" r="1.6"/>
<circle cx="210.19" cy="72.27" r="1.6"/>
<polyline class="ml" points="122.73,146.36 124.82,146.22 127.35,145.97 129.88,145.67 132.41,145.32 134.95,144.94 137.48,144.49 140.01,143.95 142.55,143.32 145.08,142.62 147.61,141.76 150.15,140.75 152.68,139.66 155.21,138.55 157.75,137.50 160.28,136.49 162.81,135.51 165.34,134.54 167.88,133.57 170.41,132.59 172.94,131.60 175.48,130.58 178.01,129.52 180.54,128.42 183.07,127.26 185.61,126.04 188.14,124.75 190.67,123.37 193.21,121.92 195.74,120.41 198.27,118.82 200.81,117.17 203.34,115.46 205.87,113.69 208.40,111.86 210.94,109.99 213.47,108.06 216.60,105.62"/>
<circle cx="122.73" cy="146.36" r="1.6"/>
<circle cx="124.82" cy="146.22" r="1.6"/>
<circle cx="127.35" cy="145.97" r="1.6"/>
<circle cx="129.88" cy="145.67" r="1.6"/>
<circle cx="132.41" cy="145.32" r="1.6"/>
<circle cx="134.95" cy="144.94" r="1.6"/>
<circle cx="137.48" cy="144.49" r="1.6"/>
<circle cx="140.01" cy="143.95" r="1.6"/>
<circle cx="142.55" cy="143.32" r="1.6"/>
<circle cx="145.08" cy="142.62" r="1.6"/>
<circle cx="147.61" cy="141.76" r="1.6"/>
<circle cx="150.15" cy="140.75" r="1.6"/>
<circle cx="152.68" cy="139.66" r="1.6"/>
<circle cx="155.21" cy="138.55" r="1.6"/>
<circle cx="157.75" cy="137.50" r="1.6"/>
<circle cx="160.28" cy="136.49" r="1.6"/>
<circle cx="162.81" cy="135.51" r="1.6"/>
<circle cx="165.34" cy="134.54" r="1.6"/>
<circle cx="167.88" cy="133.57" r="1.6"/>
<circle cx="170.41" cy="132.59" r="1.6"/>
<circle cx="172.94" cy="131.60" r="1.6"/>
<circle cx="175.48" cy="130.58" r="1.6"/>
<circle cx="178.01" cy="129.52" r="1.6"/>
<circle cx="180.54" cy="128.42" r="1.6"/>
<circle cx="183.07" cy="127.26" r="1.6"/>
<circle cx="185.61" cy="126.04" r="1.6"/>
<circle cx="188.14" cy="124.75" r="1.6"/>
<circle cx="190.67" cy="123.37" r="1.6"/>
<circle cx="193.21" cy="121.92" r="1.6"/>
<circle cx="195.74" cy="120.41" r="1.6"/>
<circle cx="198.27" cy="118.82" r="1.6"/>
<circle cx="200.81" cy="117.17" r="1.6"/>
<circle cx="203.34" cy="115.46" r="1.6"/>
<circle cx="205.87" cy="113.69" r="1.6"/>
<circle cx="208.40" cy="111.86" r="1.6"/>
<circle cx="210.94" cy="109.99" r="1.6"/>
<circle cx="213.47" cy="108.06" r="1.6"/>
<circle cx="216.60" cy="105.62" r="1.6"/>
</g>
<g transform="translate(0,202.25)">
<path d="M134.65,135.02 L134.67,134.71 L134.68,134.40 L134.70,134.10 L134.72,133.80 L134.73,133.50 L134.75,133.20 L134.77,132.90 L134.79,132.61 L134.80,132.31 L134.82,132.03 L134.84,131.74 L134.85,131.47 L134.87,131.19 L134.89,130.92 L134.90,130.66 L134.92,130.40 L134.94,130.15 L134.96,129.90 L134.97,129.66 L134.99,129.43 L135.01,129.20 L135.02,128.99 L135.04,128.78 L135.06,128.57 L135.07,128.38 L135.09,128.20 L135.11,128.02 L135.13,127.85 L135.14,127.68 L135.16,127.50 L135.18,127.33 L135.19,127.16 L135.21,126.99 L135.23,126.82 L135.24,126.65 L135.26,126.48 L135.28,126.31 L135.30,126.15 L135.31,125.99 L135.33,125.82 L135.35,125.66 L135.36,125.50 L135.38,125.35 L135.40,125.19 L135.41,125.04 L135.43,124.89 L135.45,124.74 L135.46,124.59 L135.48,124.45 L135.50,124.30 L135.52,124.16 L135.53,124.03 L135.55,123.89 L135.57,123.76 L135.58,123.63 L135.60,123.51 L135.62,123.38 L135.63,123.26 L135.65,123.15 L135.67,123.03 L135.69,122.92 L135.70,122.81 L135.72,122.71 L135.74,122.61 L135.75,122.52 L135.77,122.42 L135.79,122.34 L135.80,122.25 L135.82,122.17 L135.84,122.09 L135.86,122.02 L135.87,121.95 L135.89,121.89 L135.91,121.83 L135.92,121.78 L135.94,121.73 L135.96,121.68 L135.97,121.64 L135.99,121.61" class="lc" style="stroke-width:1.6"/>
<path d="M135.40,136.74 L135.44,136.32 L135.48,135.91 L135.53,135.50 L135.57,135.09 L135.61,134.68 L135.66,134.27 L135.70,133.87 L135.74,133.47 L135.79,133.08 L135.83,132.69 L135.87,132.31 L135.92,131.93 L135.96,131.57 L136.00,131.20 L136.05,130.85 L136.09,130.51 L136.13,130.17 L136.18,129.85 L136.22,129.54 L136.26,129.24 L136.31,128.95 L136.35,128.67 L136.39,128.40 L136.44,128.15 L136.48,127.91 L136.52,127.67 L136.57,127.42 L136.61,127.18 L136.65,126.94 L136.70,126.70 L136.74,126.47 L136.78,126.23 L136.83,125.99 L136.87,125.76 L136.91,125.53 L136.96,125.30 L137.00,125.07 L137.04,124.84 L137.09,124.62 L137.13,124.40 L137.17,124.18 L137.22,123.96 L137.26,123.75 L137.30,123.53 L137.35,123.33 L137.39,123.12 L137.43,122.92 L137.48,122.72 L137.52,122.52 L137.56,122.33 L137.61,122.14 L137.65,121.95 L137.69,121.77 L137.74,121.59 L137.78,121.41 L137.82,121.24 L137.87,121.07 L137.91,120.91 L137.95,120.75 L138.00,120.60 L138.04,120.45 L138.08,120.31 L138.13,120.17 L138.17,120.03 L138.21,119.90 L138.26,119.78 L138.30,119.66 L138.34,119.55 L138.39,119.44 L138.43,119.33 L138.47,119.24 L138.52,119.15 L138.56,119.06 L138.61,118.98 L138.65,118.91 L138.69,118.85 L138.74,118.79 L138.78,118.73 L138.82,118.69" class="lc" style="stroke-width:1.6"/>
<path d="M136.44,138.11 L136.52,137.77 L136.60,137.44 L136.69,137.10 L136.77,136.77 L136.85,136.43 L136.94,136.10 L137.02,135.77 L137.10,135.44 L137.18,135.11 L137.27,134.79 L137.35,134.46 L137.43,134.14 L137.52,133.81 L137.60,133.49 L137.68,133.17 L137.77,132.86 L137.85,132.54 L137.93,132.23 L138.01,131.92 L138.10,131.61 L138.18,131.30 L138.26,130.99 L138.35,130.69 L138.43,130.39 L138.51,130.09 L138.60,129.80 L138.68,129.50 L138.76,129.21 L138.84,128.92 L138.93,128.63 L139.01,128.35 L139.09,128.06 L139.18,127.78 L139.26,127.49 L139.34,127.21 L139.43,126.93 L139.51,126.65 L139.59,126.36 L139.67,126.09 L139.76,125.81 L139.84,125.53 L139.92,125.25 L140.01,124.98 L140.09,124.70 L140.17,124.43 L140.26,124.16 L140.34,123.89 L140.42,123.62 L140.50,123.35 L140.59,123.08 L140.67,122.82 L140.75,122.55 L140.84,122.29 L140.92,122.03 L141.00,121.76 L141.09,121.50 L141.17,121.25 L141.25,120.99 L141.33,120.73 L141.42,120.48 L141.50,120.23 L141.58,119.97 L141.67,119.72 L141.75,119.48 L141.83,119.23 L141.92,118.98 L142.00,118.74 L142.08,118.50 L142.16,118.26 L142.25,118.02 L142.33,117.78 L142.41,117.54 L142.50,117.31 L142.58,117.07 L142.66,116.84 L142.75,116.61 L142.83,116.39 L142.91,116.16 L142.99,115.94" class="lc" style="stroke-width:1.6"/>
<path d="M137.63,139.31 L137.75,139.01 L137.87,138.72 L137.99,138.42 L138.11,138.12 L138.22,137.82 L138.34,137.52 L138.46,137.21 L138.58,136.91 L138.70,136.61 L138.82,136.31 L138.94,136.01 L139.06,135.71 L139.17,135.41 L139.29,135.11 L139.41,134.81 L139.53,134.51 L139.65,134.20 L139.77,133.90 L139.89,133.60 L140.01,133.30 L140.13,133.00 L140.24,132.69 L140.36,132.39 L140.48,132.09 L140.60,131.79 L140.72,131.48 L140.84,131.18 L140.96,130.88 L141.08,130.57 L141.19,130.27 L141.31,129.97 L141.43,129.66 L141.55,129.36 L141.67,129.05 L141.79,128.75 L141.91,128.45 L142.03,128.14 L142.15,127.84 L142.26,127.53 L142.38,127.23 L142.50,126.92 L142.62,126.62 L142.74,126.31 L142.86,126.01 L142.98,125.70 L143.10,125.40 L143.21,125.09 L143.33,124.78 L143.45,124.48 L143.57,124.17 L143.69,123.87 L143.81,123.56 L143.93,123.25 L144.05,122.95 L144.17,122.64 L144.28,122.34 L144.40,122.03 L144.52,121.72 L144.64,121.42 L144.76,121.11 L144.88,120.80 L145.00,120.49 L145.12,120.19 L145.23,119.88 L145.35,119.57 L145.47,119.26 L145.59,118.95 L145.71,118.65 L145.83,118.34 L145.95,118.03 L146.07,117.72 L146.19,117.41 L146.30,117.10 L146.42,116.80 L146.54,116.49 L146.66,116.18 L146.78,115.87 L146.90,115.56 L147.02,115.25" class="lc" style="stroke-width:1.6"/>
<path d="M139.12,140.35 L139.28,140.07 L139.45,139.79 L139.61,139.50 L139.78,139.22 L139.94,138.94 L140.10,138.65 L140.27,138.36 L140.43,138.07 L140.60,137.78 L140.76,137.49 L140.92,137.19 L141.09,136.90 L141.25,136.60 L141.42,136.30 L141.58,136.00 L141.75,135.70 L141.91,135.40 L142.07,135.09 L142.24,134.78 L142.40,134.48 L142.57,134.17 L142.73,133.85 L142.89,133.54 L143.06,133.23 L143.22,132.91 L143.39,132.59 L143.55,132.27 L143.71,131.95 L143.88,131.63 L144.04,131.30 L144.21,130.98 L144.37,130.65 L144.53,130.32 L144.70,129.99 L144.86,129.65 L145.03,129.32 L145.19,128.98 L145.36,128.65 L145.52,128.31 L145.68,127.97 L145.85,127.63 L146.01,127.28 L146.18,126.94 L146.34,126.59 L146.50,126.25 L146.67,125.90 L146.83,125.55 L147.00,125.20 L147.16,124.84 L147.32,124.49 L147.49,124.13 L147.65,123.77 L147.82,123.41 L147.98,123.05 L148.14,122.69 L148.31,122.33 L148.47,121.96 L148.64,121.59 L148.80,121.23 L148.97,120.86 L149.13,120.48 L149.29,120.11 L149.46,119.74 L149.62,119.36 L149.79,118.98 L149.95,118.60 L150.11,118.22 L150.28,117.84 L150.44,117.46 L150.61,117.07 L150.77,116.68 L150.93,116.29 L151.10,115.90 L151.26,115.51 L151.43,115.12 L151.59,114.72 L151.75,114.33 L151.92,113.93 L152.08,113.53" class="lc" style="stroke-width:1.6"/>
<path d="M140.61,141.21 L140.83,140.99 L141.04,140.77 L141.26,140.55 L141.48,140.32 L141.69,140.09 L141.91,139.85 L142.13,139.61 L142.35,139.36 L142.56,139.11 L142.78,138.86 L143.00,138.60 L143.21,138.34 L143.43,138.08 L143.65,137.81 L143.86,137.53 L144.08,137.26 L144.30,136.98 L144.51,136.69 L144.73,136.41 L144.95,136.11 L145.16,135.82 L145.38,135.52 L145.60,135.22 L145.82,134.92 L146.03,134.61 L146.25,134.30 L146.47,133.98 L146.68,133.66 L146.90,133.34 L147.12,133.02 L147.33,132.69 L147.55,132.36 L147.77,132.03 L147.98,131.70 L148.20,131.36 L148.42,131.01 L148.64,130.67 L148.85,130.31 L149.07,129.96 L149.29,129.59 L149.50,129.23 L149.72,128.86 L149.94,128.48 L150.15,128.10 L150.37,127.72 L150.59,127.33 L150.80,126.93 L151.02,126.53 L151.24,126.13 L151.45,125.72 L151.67,125.31 L151.89,124.90 L152.11,124.48 L152.32,124.05 L152.54,123.62 L152.76,123.19 L152.97,122.76 L153.19,122.31 L153.41,121.87 L153.62,121.42 L153.84,120.97 L154.06,120.51 L154.27,120.05 L154.49,119.58 L154.71,119.11 L154.93,118.64 L155.14,118.17 L155.36,117.68 L155.58,117.20 L155.79,116.71 L156.01,116.22 L156.23,115.72 L156.44,115.23 L156.66,114.72 L156.88,114.22 L157.09,113.71 L157.31,113.19 L157.53,112.68 L157.75,112.15" class="lc" style="stroke-width:1.6"/>
<path d="M142.40,141.89 L142.70,141.58 L143.01,141.27 L143.31,140.95 L143.61,140.63 L143.92,140.31 L144.22,139.98 L144.52,139.64 L144.83,139.30 L145.13,138.96 L145.43,138.61 L145.74,138.26 L146.04,137.91 L146.35,137.55 L146.65,137.18 L146.95,136.81 L147.26,136.44 L147.56,136.06 L147.86,135.68 L148.17,135.29 L148.47,134.90 L148.77,134.50 L149.08,134.10 L149.38,133.69 L149.69,133.28 L149.99,132.86 L150.29,132.44 L150.60,132.02 L150.90,131.59 L151.20,131.15 L151.51,130.71 L151.81,130.27 L152.12,129.83 L152.42,129.37 L152.72,128.92 L153.03,128.46 L153.33,128.00 L153.63,127.53 L153.94,127.06 L154.24,126.59 L154.54,126.11 L154.85,125.62 L155.15,125.14 L155.46,124.64 L155.76,124.15 L156.06,123.65 L156.37,123.14 L156.67,122.63 L156.97,122.12 L157.28,121.60 L157.58,121.08 L157.88,120.56 L158.19,120.03 L158.49,119.49 L158.80,118.95 L159.10,118.41 L159.40,117.86 L159.71,117.31 L160.01,116.76 L160.31,116.20 L160.62,115.63 L160.92,115.06 L161.22,114.49 L161.53,113.91 L161.83,113.33 L162.14,112.74 L162.44,112.15 L162.74,111.56 L163.05,110.96 L163.35,110.36 L163.65,109.75 L163.96,109.14 L164.26,108.52 L164.57,107.90 L164.87,107.27 L165.17,106.64 L165.48,106.01 L165.78,105.37 L166.08,104.72 L166.39,104.08" class="lc" style="stroke-width:1.6"/>
<path d="M144.34,142.41 L144.73,142.05 L145.13,141.69 L145.53,141.31 L145.93,140.93 L146.32,140.54 L146.72,140.13 L147.12,139.72 L147.52,139.31 L147.92,138.88 L148.31,138.45 L148.71,138.00 L149.11,137.55 L149.51,137.10 L149.91,136.63 L150.30,136.16 L150.70,135.68 L151.10,135.20 L151.50,134.71 L151.90,134.21 L152.29,133.71 L152.69,133.20 L153.09,132.68 L153.49,132.16 L153.89,131.62 L154.28,131.07 L154.68,130.51 L155.08,129.94 L155.48,129.36 L155.88,128.77 L156.27,128.16 L156.67,127.55 L157.07,126.92 L157.47,126.29 L157.87,125.65 L158.26,125.01 L158.66,124.35 L159.06,123.69 L159.46,123.02 L159.86,122.35 L160.25,121.67 L160.65,120.99 L161.05,120.30 L161.45,119.61 L161.85,118.92 L162.24,118.23 L162.64,117.53 L163.04,116.83 L163.44,116.12 L163.84,115.42 L164.23,114.70 L164.63,113.98 L165.03,113.26 L165.43,112.53 L165.82,111.79 L166.22,111.05 L166.62,110.30 L167.02,109.55 L167.42,108.79 L167.81,108.03 L168.21,107.26 L168.61,106.49 L169.01,105.71 L169.41,104.92 L169.80,104.13 L170.20,103.34 L170.60,102.54 L171.00,101.73 L171.40,100.92 L171.79,100.10 L172.19,99.28 L172.59,98.46 L172.99,97.62 L173.39,96.78 L173.78,95.94 L174.18,95.09 L174.58,94.24 L174.98,93.38 L175.38,92.52 L175.77,91.65" class="lc"/>
<path d="M146.27,142.75 L146.73,142.34 L147.20,141.92 L147.66,141.48 L148.12,141.03 L148.58,140.57 L149.04,140.10 L149.51,139.61 L149.97,139.12 L150.43,138.61 L150.89,138.10 L151.35,137.57 L151.82,137.03 L152.28,136.49 L152.74,135.93 L153.20,135.37 L153.67,134.80 L154.13,134.22 L154.59,133.63 L155.05,133.04 L155.51,132.43 L155.98,131.82 L156.44,131.18 L156.90,130.52 L157.36,129.85 L157.82,129.16 L158.29,128.45 L158.75,127.73 L159.21,127.00 L159.67,126.26 L160.13,125.51 L160.60,124.75 L161.06,123.98 L161.52,123.21 L161.98,122.44 L162.45,121.66 L162.91,120.88 L163.37,120.11 L163.83,119.33 L164.29,118.56 L164.76,117.77 L165.22,116.97 L165.68,116.17 L166.14,115.36 L166.60,114.55 L167.07,113.73 L167.53,112.91 L167.99,112.08 L168.45,111.24 L168.91,110.40 L169.38,109.56 L169.84,108.72 L170.30,107.87 L170.76,107.03 L171.22,106.18 L171.69,105.33 L172.15,104.48 L172.61,103.62 L173.07,102.77 L173.54,101.91 L174.00,101.05 L174.46,100.18 L174.92,99.32 L175.38,98.45 L175.85,97.58 L176.31,96.70 L176.77,95.83 L177.23,94.95 L177.69,94.06 L178.16,93.18 L178.62,92.29 L179.08,91.40 L179.54,90.51 L180.00,89.61 L180.47,88.71 L180.93,87.81 L181.39,86.90 L181.85,85.99 L182.31,85.08 L182.78,84.17" class="lc"/>
<path d="M148.36,143.01 L148.88,142.60 L149.40,142.18 L149.91,141.74 L150.43,141.29 L150.95,140.82 L151.47,140.35 L151.99,139.85 L152.51,139.35 L153.03,138.83 L153.54,138.30 L154.06,137.77 L154.58,137.21 L155.10,136.65 L155.62,136.08 L156.14,135.50 L156.66,134.91 L157.18,134.31 L157.69,133.70 L158.21,133.08 L158.73,132.43 L159.25,131.77 L159.77,131.08 L160.29,130.38 L160.81,129.66 L161.32,128.93 L161.84,128.18 L162.36,127.41 L162.88,126.64 L163.40,125.85 L163.92,125.06 L164.44,124.26 L164.96,123.45 L165.47,122.64 L165.99,121.82 L166.51,121.00 L167.03,120.18 L167.55,119.36 L168.07,118.53 L168.59,117.68 L169.10,116.82 L169.62,115.95 L170.14,115.07 L170.66,114.18 L171.18,113.28 L171.70,112.38 L172.22,111.46 L172.74,110.55 L173.25,109.63 L173.77,108.70 L174.29,107.78 L174.81,106.85 L175.33,105.93 L175.85,105.00 L176.37,104.08 L176.88,103.16 L177.40,102.24 L177.92,101.32 L178.44,100.39 L178.96,99.47 L179.48,98.54 L180.00,97.61 L180.52,96.67 L181.03,95.74 L181.55,94.80 L182.07,93.86 L182.59,92.92 L183.11,91.98 L183.63,91.03 L184.15,90.09 L184.66,89.14 L185.18,88.18 L185.70,87.23 L186.22,86.27 L186.74,85.32 L187.26,84.36 L187.78,83.39 L188.30,82.43 L188.81,81.46 L189.33,80.49" class="lc"/>
<path d="M150.74,143.27 L151.33,142.86 L151.93,142.44 L152.52,142.01 L153.11,141.57 L153.70,141.12 L154.30,140.66 L154.89,140.19 L155.48,139.70 L156.07,139.21 L156.66,138.71 L157.26,138.20 L157.85,137.67 L158.44,137.14 L159.03,136.60 L159.63,136.06 L160.22,135.50 L160.81,134.94 L161.40,134.36 L161.99,133.78 L162.59,133.18 L163.18,132.58 L163.77,131.96 L164.36,131.33 L164.96,130.69 L165.55,130.04 L166.14,129.38 L166.73,128.71 L167.32,128.02 L167.92,127.32 L168.51,126.61 L169.10,125.89 L169.69,125.15 L170.29,124.40 L170.88,123.63 L171.47,122.85 L172.06,122.06 L172.65,121.25 L173.25,120.42 L173.84,119.55 L174.43,118.65 L175.02,117.71 L175.62,116.75 L176.21,115.77 L176.80,114.76 L177.39,113.74 L177.98,112.70 L178.58,111.66 L179.17,110.60 L179.76,109.54 L180.35,108.47 L180.95,107.41 L181.54,106.35 L182.13,105.30 L182.72,104.25 L183.31,103.22 L183.91,102.21 L184.50,101.20 L185.09,100.19 L185.68,99.18 L186.28,98.17 L186.87,97.16 L187.46,96.15 L188.05,95.14 L188.64,94.13 L189.24,93.12 L189.83,92.11 L190.42,91.09 L191.01,90.08 L191.61,89.06 L192.20,88.05 L192.79,87.03 L193.38,86.02 L193.97,85.00 L194.57,83.99 L195.16,82.97 L195.75,81.95 L196.34,80.93 L196.94,79.91 L197.53,78.89" class="lc"/>
<path d="M154.02,143.61 L154.66,143.40 L155.30,143.17 L155.94,142.92 L156.59,142.64 L157.23,142.35 L157.87,142.03 L158.51,141.69 L159.15,141.34 L159.79,140.97 L160.43,140.58 L161.07,140.18 L161.72,139.77 L162.36,139.34 L163.00,138.89 L163.64,138.44 L164.28,137.98 L164.92,137.50 L165.56,137.02 L166.20,136.53 L166.85,136.00 L167.49,135.43 L168.13,134.82 L168.77,134.18 L169.41,133.50 L170.05,132.80 L170.69,132.07 L171.33,131.32 L171.98,130.55 L172.62,129.76 L173.26,128.96 L173.90,128.15 L174.54,127.33 L175.18,126.50 L175.82,125.68 L176.46,124.86 L177.11,124.04 L177.75,123.23 L178.39,122.43 L179.03,121.65 L179.67,120.88 L180.31,120.12 L180.95,119.35 L181.59,118.58 L182.24,117.81 L182.88,117.04 L183.52,116.26 L184.16,115.48 L184.80,114.70 L185.44,113.91 L186.08,113.11 L186.72,112.31 L187.37,111.50 L188.01,110.68 L188.65,109.85 L189.29,109.02 L189.93,108.17 L190.57,107.32 L191.21,106.46 L191.85,105.60 L192.50,104.73 L193.14,103.85 L193.78,102.96 L194.42,102.08 L195.06,101.18 L195.70,100.28 L196.34,99.37 L196.98,98.45 L197.63,97.53 L198.27,96.61 L198.91,95.67 L199.55,94.73 L200.19,93.78 L200.83,92.83 L201.47,91.87 L202.11,90.90 L202.76,89.93 L203.40,88.95 L204.04,87.96 L204.68,86.97" class="lc"/>
<path d="M158.49,143.87 L159.15,143.65 L159.81,143.43 L160.48,143.20 L161.14,142.96 L161.80,142.71 L162.46,142.45 L163.12,142.18 L163.79,141.91 L164.45,141.63 L165.11,141.34 L165.77,141.05 L166.43,140.75 L167.10,140.44 L167.76,140.13 L168.42,139.81 L169.08,139.49 L169.74,139.17 L170.41,138.83 L171.07,138.50 L171.73,138.15 L172.39,137.79 L173.05,137.42 L173.72,137.03 L174.38,136.63 L175.04,136.23 L175.70,135.81 L176.36,135.38 L177.03,134.95 L177.69,134.52 L178.35,134.08 L179.01,133.64 L179.67,133.20 L180.34,132.77 L181.00,132.34 L181.66,131.90 L182.32,131.47 L182.98,131.04 L183.65,130.60 L184.31,130.16 L184.97,129.72 L185.63,129.28 L186.29,128.83 L186.96,128.37 L187.62,127.91 L188.28,127.44 L188.94,126.97 L189.60,126.48 L190.27,125.99 L190.93,125.48 L191.59,124.97 L192.25,124.44 L192.91,123.91 L193.58,123.36 L194.24,122.81 L194.90,122.25 L195.56,121.68 L196.22,121.10 L196.89,120.52 L197.55,119.93 L198.21,119.33 L198.87,118.73 L199.53,118.12 L200.20,117.51 L200.86,116.89 L201.52,116.28 L202.18,115.65 L202.84,115.02 L203.51,114.38 L204.17,113.74 L204.83,113.08 L205.49,112.42 L206.15,111.75 L206.82,111.08 L207.48,110.40 L208.14,109.71 L208.80,109.01 L209.46,108.31 L210.13,107.61 L210.79,106.89" class="lc" style="stroke-width:2.2"/>
<path d="M166.83,144.13 L167.45,144.02 L168.06,143.91 L168.68,143.80 L169.29,143.68 L169.91,143.56 L170.52,143.44 L171.14,143.31 L171.75,143.18 L172.37,143.05 L172.98,142.92 L173.60,142.78 L174.21,142.64 L174.83,142.50 L175.44,142.35 L176.06,142.20 L176.67,142.05 L177.29,141.90 L177.90,141.75 L178.52,141.59 L179.13,141.43 L179.75,141.27 L180.36,141.11 L180.98,140.94 L181.59,140.77 L182.21,140.59 L182.82,140.41 L183.44,140.23 L184.05,140.04 L184.66,139.85 L185.28,139.66 L185.89,139.46 L186.51,139.26 L187.12,139.06 L187.74,138.85 L188.35,138.64 L188.97,138.43 L189.58,138.21 L190.20,137.99 L190.81,137.77 L191.43,137.55 L192.04,137.31 L192.66,137.08 L193.27,136.84 L193.89,136.59 L194.50,136.35 L195.12,136.09 L195.73,135.83 L196.35,135.57 L196.96,135.31 L197.58,135.04 L198.19,134.77 L198.81,134.49 L199.42,134.21 L200.04,133.93 L200.65,133.64 L201.27,133.36 L201.88,133.07 L202.50,132.77 L203.11,132.48 L203.73,132.18 L204.34,131.88 L204.96,131.57 L205.57,131.26 L206.19,130.94 L206.80,130.62 L207.41,130.30 L208.03,129.97 L208.64,129.63 L209.26,129.30 L209.87,128.96 L210.49,128.61 L211.10,128.27 L211.72,127.92 L212.33,127.56 L212.95,127.20 L213.56,126.84 L214.18,126.47 L214.79,126.11 L215.41,125.73" class="lc" style="stroke-width:2.6"/>
</g>
<g transform="translate(250.8,202.25)">
<path d="M159.24,141.21 L159.23,141.05 L159.23,140.90 L159.22,140.74 L159.22,140.58 L159.22,140.43 L159.21,140.27 L159.21,140.12 L159.21,139.96 L159.21,139.80 L159.20,139.64 L159.20,139.49 L159.20,139.33 L159.19,139.17 L159.19,139.02 L159.19,138.86 L159.18,138.70 L159.18,138.55 L159.18,138.39 L159.18,138.23 L159.17,138.08 L159.17,137.92 L159.17,137.76 L159.16,137.61 L159.16,137.45 L159.16,137.30 L159.15,137.14 L159.15,136.99 L159.14,136.83 L159.14,136.68 L159.14,136.52 L159.13,136.37 L159.13,136.22 L159.12,136.07 L159.12,135.91 L159.11,135.76 L159.11,135.61 L159.10,135.46 L159.10,135.31 L159.09,135.16 L159.09,135.02 L159.08,134.88 L159.07,134.74 L159.07,134.60 L159.06,134.47 L159.06,134.33 L159.05,134.20 L159.04,134.06 L159.03,133.93 L159.03,133.79 L159.02,133.66 L159.01,133.53 L159.01,133.40 L159.00,133.26 L158.99,133.13 L158.98,133.00 L158.97,132.87 L158.97,132.74 L158.96,132.61 L158.95,132.47 L158.94,132.34 L158.93,132.21 L158.93,132.08 L158.92,131.95 L158.91,131.82 L158.90,131.69 L158.89,131.56 L158.88,131.43 L158.88,131.30 L158.87,131.17 L158.86,131.04 L158.85,130.91 L158.84,130.78 L158.84,130.65 L158.83,130.52 L158.82,130.39 L158.81,130.26 L158.80,130.12 L158.80,129.99 L158.79,129.86" class="ld" style="stroke-width:0.8"/>
<path d="M159.98,141.21 L159.98,141.05 L159.99,140.89 L159.99,140.73 L160.00,140.57 L160.00,140.41 L160.00,140.25 L160.01,140.10 L160.01,139.94 L160.01,139.78 L160.02,139.62 L160.02,139.46 L160.03,139.31 L160.03,139.15 L160.03,138.99 L160.04,138.84 L160.04,138.68 L160.04,138.52 L160.05,138.36 L160.05,138.21 L160.06,138.05 L160.06,137.89 L160.06,137.74 L160.07,137.58 L160.07,137.42 L160.07,137.27 L160.08,137.11 L160.08,136.96 L160.09,136.80 L160.09,136.65 L160.09,136.49 L160.10,136.33 L160.10,136.18 L160.10,136.02 L160.11,135.87 L160.11,135.71 L160.12,135.56 L160.12,135.40 L160.12,135.25 L160.13,135.09 L160.13,134.94 L160.13,134.79 L160.14,134.63 L160.14,134.48 L160.15,134.32 L160.15,134.17 L160.15,134.02 L160.16,133.86 L160.16,133.71 L160.16,133.55 L160.17,133.40 L160.17,133.25 L160.18,133.09 L160.18,132.94 L160.18,132.79 L160.19,132.64 L160.19,132.48 L160.20,132.33 L160.20,132.18 L160.20,132.03 L160.21,131.87 L160.21,131.72 L160.21,131.57 L160.22,131.42 L160.22,131.27 L160.23,131.11 L160.23,130.96 L160.23,130.81 L160.24,130.66 L160.24,130.51 L160.24,130.36 L160.25,130.21 L160.25,130.05 L160.26,129.90 L160.26,129.75 L160.26,129.60 L160.27,129.45 L160.27,129.30 L160.27,129.15 L160.28,129.00" class="ld" style="stroke-width:0.8"/>
<path d="M160.72,141.21 L160.74,140.94 L160.75,140.68 L160.76,140.41 L160.78,140.15 L160.79,139.89 L160.80,139.63 L160.82,139.37 L160.83,139.11 L160.84,138.86 L160.86,138.61 L160.87,138.36 L160.88,138.12 L160.90,137.88 L160.91,137.65 L160.92,137.42 L160.94,137.20 L160.95,136.98 L160.96,136.77 L160.98,136.56 L160.99,136.36 L161.00,136.17 L161.02,135.98 L161.03,135.80 L161.04,135.62 L161.06,135.45 L161.07,135.27 L161.08,135.09 L161.09,134.92 L161.11,134.75 L161.12,134.57 L161.13,134.40 L161.15,134.23 L161.16,134.06 L161.17,133.89 L161.19,133.72 L161.20,133.56 L161.21,133.39 L161.23,133.23 L161.24,133.06 L161.25,132.90 L161.27,132.74 L161.28,132.59 L161.29,132.43 L161.31,132.27 L161.32,132.12 L161.33,131.97 L161.35,131.82 L161.36,131.67 L161.37,131.53 L161.39,131.38 L161.40,131.24 L161.41,131.10 L161.42,130.96 L161.44,130.83 L161.45,130.69 L161.46,130.56 L161.48,130.43 L161.49,130.31 L161.50,130.18 L161.52,130.06 L161.53,129.95 L161.54,129.83 L161.56,129.72 L161.57,129.61 L161.58,129.50 L161.60,129.39 L161.61,129.29 L161.62,129.19 L161.64,129.10 L161.65,129.00 L161.66,128.91 L161.68,128.83 L161.69,128.74 L161.70,128.66 L161.72,128.59 L161.73,128.51 L161.74,128.44 L161.75,128.38 L161.77,128.31" class="ld" style="stroke-width:0.8"/>
<path d="M161.17,141.03 L161.21,140.92 L161.25,140.80 L161.30,140.68 L161.34,140.56 L161.38,140.44 L161.42,140.31 L161.46,140.19 L161.50,140.06 L161.55,139.93 L161.59,139.80 L161.63,139.67 L161.67,139.54 L161.71,139.40 L161.75,139.27 L161.79,139.13 L161.84,138.99 L161.88,138.85 L161.92,138.71 L161.96,138.57 L162.00,138.43 L162.04,138.28 L162.08,138.14 L162.13,137.99 L162.17,137.84 L162.21,137.69 L162.25,137.54 L162.29,137.39 L162.33,137.24 L162.38,137.08 L162.42,136.93 L162.46,136.77 L162.50,136.61 L162.54,136.46 L162.58,136.30 L162.62,136.14 L162.67,135.98 L162.71,135.81 L162.75,135.65 L162.79,135.48 L162.83,135.32 L162.87,135.15 L162.91,134.98 L162.96,134.81 L163.00,134.64 L163.04,134.47 L163.08,134.29 L163.12,134.11 L163.16,133.93 L163.21,133.75 L163.25,133.57 L163.29,133.38 L163.33,133.20 L163.37,133.01 L163.41,132.82 L163.45,132.63 L163.50,132.44 L163.54,132.24 L163.58,132.05 L163.62,131.85 L163.66,131.65 L163.70,131.45 L163.74,131.25 L163.79,131.05 L163.83,130.85 L163.87,130.64 L163.91,130.43 L163.95,130.23 L163.99,130.02 L164.04,129.81 L164.08,129.59 L164.12,129.38 L164.16,129.16 L164.20,128.95 L164.24,128.73 L164.28,128.51 L164.33,128.29 L164.37,128.07 L164.41,127.85 L164.45,127.63" class="ld"/>
<path d="M161.77,140.86 L161.84,140.75 L161.92,140.64 L161.99,140.52 L162.06,140.41 L162.14,140.29 L162.21,140.16 L162.28,140.04 L162.36,139.92 L162.43,139.79 L162.50,139.66 L162.58,139.53 L162.65,139.39 L162.72,139.26 L162.80,139.12 L162.87,138.98 L162.94,138.84 L163.02,138.70 L163.09,138.56 L163.17,138.41 L163.24,138.26 L163.31,138.11 L163.39,137.96 L163.46,137.81 L163.53,137.65 L163.61,137.50 L163.68,137.34 L163.75,137.18 L163.83,137.02 L163.90,136.86 L163.97,136.70 L164.05,136.53 L164.12,136.37 L164.20,136.20 L164.27,136.03 L164.34,135.86 L164.42,135.69 L164.49,135.52 L164.56,135.35 L164.64,135.17 L164.71,135.00 L164.78,134.82 L164.86,134.64 L164.93,134.46 L165.00,134.27 L165.08,134.08 L165.15,133.89 L165.23,133.70 L165.30,133.50 L165.37,133.31 L165.45,133.11 L165.52,132.90 L165.59,132.70 L165.67,132.49 L165.74,132.28 L165.81,132.07 L165.89,131.86 L165.96,131.64 L166.03,131.43 L166.11,131.21 L166.18,130.98 L166.25,130.76 L166.33,130.54 L166.40,130.31 L166.48,130.08 L166.55,129.85 L166.62,129.61 L166.70,129.38 L166.77,129.14 L166.84,128.90 L166.92,128.66 L166.99,128.42 L167.06,128.18 L167.14,127.93 L167.21,127.68 L167.28,127.43 L167.36,127.18 L167.43,126.93 L167.51,126.68 L167.58,126.42" class="ld"/>
<path d="M162.66,140.52 L162.77,140.42 L162.88,140.31 L163.00,140.20 L163.11,140.09 L163.22,139.98 L163.33,139.86 L163.44,139.74 L163.55,139.62 L163.66,139.50 L163.77,139.37 L163.89,139.24 L164.00,139.11 L164.11,138.98 L164.22,138.84 L164.33,138.70 L164.44,138.56 L164.55,138.42 L164.67,138.27 L164.78,138.13 L164.89,137.98 L165.00,137.83 L165.11,137.67 L165.22,137.52 L165.33,137.36 L165.44,137.20 L165.56,137.04 L165.67,136.88 L165.78,136.71 L165.89,136.54 L166.00,136.38 L166.11,136.21 L166.22,136.04 L166.33,135.86 L166.45,135.69 L166.56,135.51 L166.67,135.34 L166.78,135.16 L166.89,134.98 L167.00,134.80 L167.11,134.61 L167.22,134.43 L167.34,134.24 L167.45,134.04 L167.56,133.85 L167.67,133.65 L167.78,133.45 L167.89,133.24 L168.00,133.03 L168.11,132.82 L168.23,132.60 L168.34,132.39 L168.45,132.16 L168.56,131.94 L168.67,131.71 L168.78,131.48 L168.89,131.25 L169.00,131.02 L169.12,130.78 L169.23,130.54 L169.34,130.29 L169.45,130.05 L169.56,129.80 L169.67,129.55 L169.78,129.29 L169.90,129.04 L170.01,128.78 L170.12,128.52 L170.23,128.25 L170.34,127.99 L170.45,127.72 L170.56,127.45 L170.67,127.18 L170.79,126.90 L170.90,126.63 L171.01,126.35 L171.12,126.07 L171.23,125.79 L171.34,125.50 L171.45,125.22" class="ld"/>
<path d="M163.71,140.17 L163.88,140.06 L164.06,139.94 L164.23,139.81 L164.41,139.69 L164.58,139.55 L164.76,139.42 L164.93,139.27 L165.11,139.13 L165.28,138.98 L165.46,138.82 L165.63,138.67 L165.81,138.51 L165.99,138.34 L166.16,138.17 L166.34,138.00 L166.51,137.82 L166.69,137.64 L166.86,137.46 L167.04,137.27 L167.21,137.09 L167.39,136.89 L167.56,136.70 L167.74,136.50 L167.91,136.30 L168.09,136.10 L168.27,135.89 L168.44,135.68 L168.62,135.47 L168.79,135.25 L168.97,135.04 L169.14,134.82 L169.32,134.60 L169.49,134.37 L169.67,134.15 L169.84,133.92 L170.02,133.69 L170.19,133.46 L170.37,133.22 L170.55,132.99 L170.72,132.75 L170.90,132.51 L171.07,132.26 L171.25,132.01 L171.42,131.75 L171.60,131.49 L171.77,131.22 L171.95,130.94 L172.12,130.66 L172.30,130.38 L172.48,130.09 L172.65,129.79 L172.83,129.50 L173.00,129.19 L173.18,128.88 L173.35,128.57 L173.53,128.25 L173.70,127.93 L173.88,127.60 L174.05,127.27 L174.23,126.94 L174.40,126.60 L174.58,126.26 L174.76,125.91 L174.93,125.56 L175.11,125.21 L175.28,124.85 L175.46,124.49 L175.63,124.12 L175.81,123.75 L175.98,123.38 L176.16,123.00 L176.33,122.63 L176.51,122.24 L176.68,121.86 L176.86,121.47 L177.04,121.08 L177.21,120.69 L177.39,120.29 L177.56,119.89" class="ld"/>
<path d="M165.19,139.83 L165.44,139.69 L165.69,139.53 L165.94,139.38 L166.18,139.21 L166.43,139.03 L166.68,138.85 L166.92,138.66 L167.17,138.46 L167.42,138.26 L167.67,138.05 L167.91,137.83 L168.16,137.60 L168.41,137.37 L168.65,137.14 L168.90,136.89 L169.15,136.64 L169.40,136.39 L169.64,136.13 L169.89,135.86 L170.14,135.59 L170.38,135.31 L170.63,135.03 L170.88,134.74 L171.12,134.45 L171.37,134.15 L171.62,133.85 L171.87,133.55 L172.11,133.24 L172.36,132.92 L172.61,132.61 L172.85,132.28 L173.10,131.96 L173.35,131.63 L173.60,131.30 L173.84,130.97 L174.09,130.63 L174.34,130.29 L174.58,129.95 L174.83,129.60 L175.08,129.25 L175.33,128.89 L175.57,128.53 L175.82,128.15 L176.07,127.76 L176.31,127.36 L176.56,126.96 L176.81,126.54 L177.05,126.12 L177.30,125.68 L177.55,125.24 L177.80,124.79 L178.04,124.33 L178.29,123.86 L178.54,123.38 L178.78,122.90 L179.03,122.40 L179.28,121.90 L179.53,121.39 L179.77,120.88 L180.02,120.36 L180.27,119.83 L180.51,119.29 L180.76,118.74 L181.01,118.19 L181.25,117.64 L181.50,117.07 L181.75,116.50 L182.00,115.93 L182.24,115.35 L182.49,114.76 L182.74,114.16 L182.98,113.57 L183.23,112.96 L183.48,112.35 L183.73,111.74 L183.97,111.12 L184.22,110.49 L184.47,109.87 L184.71,109.23" class="ld"/>
<path d="M167.43,139.31 L167.73,139.14 L168.03,138.96 L168.33,138.77 L168.63,138.57 L168.93,138.36 L169.23,138.15 L169.53,137.92 L169.83,137.69 L170.13,137.44 L170.43,137.19 L170.73,136.93 L171.03,136.66 L171.33,136.39 L171.63,136.11 L171.93,135.82 L172.23,135.52 L172.53,135.21 L172.83,134.90 L173.13,134.59 L173.43,134.26 L173.73,133.93 L174.03,133.60 L174.33,133.25 L174.63,132.91 L174.93,132.55 L175.23,132.19 L175.53,131.83 L175.83,131.46 L176.13,131.09 L176.43,130.71 L176.73,130.33 L177.03,129.94 L177.33,129.55 L177.63,129.16 L177.93,128.76 L178.23,128.36 L178.53,127.95 L178.83,127.54 L179.13,127.13 L179.43,126.72 L179.73,126.29 L180.03,125.85 L180.33,125.40 L180.62,124.94 L180.92,124.47 L181.22,123.98 L181.52,123.49 L181.82,122.98 L182.12,122.46 L182.42,121.94 L182.72,121.40 L183.02,120.85 L183.32,120.29 L183.62,119.72 L183.92,119.15 L184.22,118.56 L184.52,117.96 L184.82,117.36 L185.12,116.74 L185.42,116.12 L185.72,115.49 L186.02,114.85 L186.32,114.20 L186.62,113.55 L186.92,112.88 L187.22,112.21 L187.52,111.53 L187.82,110.85 L188.12,110.15 L188.42,109.45 L188.72,108.75 L189.02,108.03 L189.32,107.31 L189.62,106.59 L189.92,105.86 L190.22,105.12 L190.52,104.37 L190.82,103.63 L191.12,102.87" class="ld"/>
<path d="M170.41,138.80 L170.74,138.63 L171.06,138.45 L171.39,138.26 L171.72,138.06 L172.04,137.85 L172.37,137.63 L172.69,137.40 L173.02,137.17 L173.35,136.93 L173.67,136.68 L174.00,136.42 L174.33,136.15 L174.65,135.87 L174.98,135.59 L175.30,135.30 L175.63,135.00 L175.96,134.70 L176.28,134.39 L176.61,134.07 L176.94,133.75 L177.26,133.42 L177.59,133.08 L177.91,132.74 L178.24,132.39 L178.57,132.04 L178.89,131.68 L179.22,131.31 L179.55,130.95 L179.87,130.57 L180.20,130.19 L180.53,129.81 L180.85,129.43 L181.18,129.03 L181.50,128.64 L181.83,128.24 L182.16,127.84 L182.48,127.43 L182.81,127.03 L183.14,126.61 L183.46,126.20 L183.79,125.77 L184.11,125.34 L184.44,124.89 L184.77,124.42 L185.09,123.95 L185.42,123.47 L185.75,122.97 L186.07,122.46 L186.40,121.95 L186.72,121.42 L187.05,120.88 L187.38,120.33 L187.70,119.78 L188.03,119.21 L188.36,118.63 L188.68,118.04 L189.01,117.45 L189.33,116.84 L189.66,116.23 L189.99,115.61 L190.31,114.97 L190.64,114.33 L190.97,113.69 L191.29,113.03 L191.62,112.37 L191.95,111.69 L192.27,111.02 L192.60,110.33 L192.92,109.64 L193.25,108.94 L193.58,108.23 L193.90,107.52 L194.23,106.80 L194.56,106.07 L194.88,105.34 L195.21,104.60 L195.53,103.86 L195.86,103.11 L196.19,102.36" class="ld"/>
<path d="M174.88,138.97 L175.20,138.80 L175.51,138.63 L175.83,138.45 L176.15,138.26 L176.46,138.07 L176.78,137.87 L177.10,137.67 L177.41,137.45 L177.73,137.24 L178.05,137.01 L178.37,136.79 L178.68,136.55 L179.00,136.31 L179.32,136.07 L179.63,135.82 L179.95,135.56 L180.27,135.30 L180.58,135.04 L180.90,134.77 L181.22,134.50 L181.53,134.22 L181.85,133.93 L182.17,133.65 L182.48,133.36 L182.80,133.06 L183.12,132.76 L183.44,132.46 L183.75,132.15 L184.07,131.84 L184.39,131.53 L184.70,131.21 L185.02,130.89 L185.34,130.56 L185.65,130.24 L185.97,129.91 L186.29,129.57 L186.60,129.24 L186.92,128.90 L187.24,128.56 L187.55,128.22 L187.87,127.86 L188.19,127.51 L188.51,127.14 L188.82,126.76 L189.14,126.38 L189.46,125.99 L189.77,125.59 L190.09,125.19 L190.41,124.78 L190.72,124.36 L191.04,123.93 L191.36,123.50 L191.67,123.06 L191.99,122.61 L192.31,122.15 L192.62,121.69 L192.94,121.23 L193.26,120.75 L193.57,120.28 L193.89,119.79 L194.21,119.30 L194.53,118.80 L194.84,118.30 L195.16,117.79 L195.48,117.28 L195.79,116.76 L196.11,116.24 L196.43,115.71 L196.74,115.17 L197.06,114.63 L197.38,114.09 L197.69,113.54 L198.01,112.99 L198.33,112.43 L198.64,111.87 L198.96,111.30 L199.28,110.73 L199.60,110.15 L199.91,109.58" class="ld"/>
<path d="M179.35,140.17 L179.65,140.04 L179.95,139.91 L180.26,139.77 L180.56,139.62 L180.86,139.48 L181.16,139.33 L181.46,139.17 L181.76,139.02 L182.07,138.86 L182.37,138.69 L182.67,138.53 L182.97,138.36 L183.27,138.18 L183.57,138.01 L183.88,137.83 L184.18,137.65 L184.48,137.46 L184.78,137.27 L185.08,137.08 L185.39,136.89 L185.69,136.70 L185.99,136.50 L186.29,136.30 L186.59,136.09 L186.89,135.89 L187.20,135.68 L187.50,135.47 L187.80,135.26 L188.10,135.04 L188.40,134.82 L188.70,134.60 L189.01,134.38 L189.31,134.16 L189.61,133.93 L189.91,133.71 L190.21,133.48 L190.52,133.25 L190.82,133.01 L191.12,132.78 L191.42,132.54 L191.72,132.30 L192.02,132.06 L192.33,131.81 L192.63,131.56 L192.93,131.30 L193.23,131.04 L193.53,130.77 L193.84,130.50 L194.14,130.23 L194.44,129.95 L194.74,129.67 L195.04,129.38 L195.34,129.09 L195.65,128.80 L195.95,128.50 L196.25,128.20 L196.55,127.90 L196.85,127.59 L197.15,127.28 L197.46,126.96 L197.76,126.64 L198.06,126.32 L198.36,126.00 L198.66,125.67 L198.97,125.34 L199.27,125.00 L199.57,124.67 L199.87,124.33 L200.17,123.98 L200.47,123.64 L200.78,123.29 L201.08,122.94 L201.38,122.58 L201.68,122.23 L201.98,121.87 L202.28,121.51 L202.59,121.14 L202.89,120.77 L203.19,120.41" class="ld"/>
<path d="M187.25,141.21 L187.47,141.12 L187.69,141.03 L187.91,140.94 L188.13,140.85 L188.35,140.76 L188.57,140.67 L188.79,140.58 L189.01,140.48 L189.23,140.39 L189.45,140.29 L189.67,140.19 L189.90,140.09 L190.12,139.99 L190.34,139.89 L190.56,139.79 L190.78,139.69 L191.00,139.59 L191.22,139.48 L191.44,139.37 L191.66,139.27 L191.88,139.16 L192.10,139.05 L192.32,138.94 L192.54,138.83 L192.76,138.72 L192.98,138.61 L193.21,138.50 L193.43,138.38 L193.65,138.27 L193.87,138.15 L194.09,138.04 L194.31,137.92 L194.53,137.80 L194.75,137.68 L194.97,137.56 L195.19,137.44 L195.41,137.32 L195.63,137.20 L195.85,137.08 L196.07,136.96 L196.29,136.83 L196.52,136.71 L196.74,136.58 L196.96,136.45 L197.18,136.32 L197.40,136.19 L197.62,136.06 L197.84,135.93 L198.06,135.79 L198.28,135.65 L198.50,135.52 L198.72,135.38 L198.94,135.24 L199.16,135.10 L199.38,134.96 L199.60,134.81 L199.83,134.67 L200.05,134.53 L200.27,134.38 L200.49,134.23 L200.71,134.08 L200.93,133.93 L201.15,133.78 L201.37,133.63 L201.59,133.48 L201.81,133.32 L202.03,133.17 L202.25,133.01 L202.47,132.86 L202.69,132.70 L202.91,132.54 L203.14,132.38 L203.36,132.22 L203.58,132.06 L203.80,131.89 L204.02,131.73 L204.24,131.57 L204.46,131.40 L204.68,131.24" class="ld"/>
<path d="M201.40,141.55 L201.52,141.51 L201.63,141.46 L201.74,141.42 L201.85,141.37 L201.97,141.33 L202.08,141.29 L202.19,141.24 L202.31,141.20 L202.42,141.15 L202.53,141.11 L202.65,141.07 L202.76,141.02 L202.87,140.98 L202.99,140.93 L203.10,140.89 L203.21,140.85 L203.33,140.80 L203.44,140.76 L203.55,140.71 L203.67,140.67 L203.78,140.63 L203.89,140.58 L204.00,140.54 L204.12,140.49 L204.23,140.45 L204.34,140.41 L204.46,140.36 L204.57,140.32 L204.68,140.27 L204.80,140.23 L204.91,140.19 L205.02,140.14 L205.14,140.10 L205.25,140.05 L205.36,140.01 L205.48,139.97 L205.59,139.92 L205.70,139.88 L205.82,139.83 L205.93,139.79 L206.04,139.75 L206.15,139.70 L206.27,139.66 L206.38,139.62 L206.49,139.57 L206.61,139.53 L206.72,139.48 L206.83,139.44 L206.95,139.40 L207.06,139.35 L207.17,139.31 L207.29,139.26 L207.40,139.22 L207.51,139.18 L207.63,139.13 L207.74,139.09 L207.85,139.04 L207.97,139.00 L208.08,138.96 L208.19,138.91 L208.31,138.87 L208.42,138.82 L208.53,138.78 L208.64,138.74 L208.76,138.69 L208.87,138.65 L208.98,138.60 L209.10,138.56 L209.21,138.52 L209.32,138.47 L209.44,138.43 L209.55,138.38 L209.66,138.34 L209.78,138.30 L209.89,138.25 L210.00,138.21 L210.12,138.16 L210.23,138.12 L210.34,138.08" class="ld"/>
</g>
<g fill="none" stroke="#9a9a9a" stroke-width="0.6">
<circle cx="135.6" cy="323.5" r="1.0"/>
<circle cx="134.9" cy="326.6" r="1.0"/>
<circle cx="134.5" cy="329.7" r="1.0"/>
<circle cx="134.4" cy="332.8" r="1.0"/>
<circle cx="134.6" cy="335.9" r="1.0"/>
<circle cx="135.2" cy="338.8" r="1.0"/>
<circle cx="136.2" cy="341.6" r="1.0"/>
</g>
<g fill="#a8a8a8" opacity="0.55"><ellipse cx="411.3" cy="337.5" rx="2.0" ry="6.0"/></g>
<g transform="translate(0,0)">
<line x1="37.80" y1="9.53" x2="37.80" y2="166.74" class="ax"/>
<line x1="35.30" y1="164.24" x2="246.40" y2="164.24" class="ax"/>
<line x1="35.30" y1="164.24" x2="37.80" y2="164.24" class="tk"/>
<line x1="36.30" y1="155.65" x2="37.80" y2="155.65" class="tk"/>
<line x1="35.30" y1="147.05" x2="37.80" y2="147.05" class="tk"/>
<line x1="36.30" y1="138.46" x2="37.80" y2="138.46" class="tk"/>
<line x1="35.30" y1="129.86" x2="37.80" y2="129.86" class="tk"/>
<line x1="36.30" y1="121.27" x2="37.80" y2="121.27" class="tk"/>
<line x1="35.30" y1="112.67" x2="37.80" y2="112.67" class="tk"/>
<line x1="36.30" y1="104.08" x2="37.80" y2="104.08" class="tk"/>
<line x1="35.30" y1="95.48" x2="37.80" y2="95.48" class="tk"/>
<line x1="36.30" y1="86.89" x2="37.80" y2="86.89" class="tk"/>
<line x1="35.30" y1="78.29" x2="37.80" y2="78.29" class="tk"/>
<line x1="36.30" y1="69.70" x2="37.80" y2="69.70" class="tk"/>
<line x1="35.30" y1="61.10" x2="37.80" y2="61.10" class="tk"/>
<line x1="36.30" y1="52.51" x2="37.80" y2="52.51" class="tk"/>
<line x1="35.30" y1="43.91" x2="37.80" y2="43.91" class="tk"/>
<line x1="36.30" y1="35.32" x2="37.80" y2="35.32" class="tk"/>
<line x1="35.30" y1="26.72" x2="37.80" y2="26.72" class="tk"/>
<line x1="36.30" y1="18.12" x2="37.80" y2="18.12" class="tk"/>
<line x1="35.30" y1="9.53" x2="37.80" y2="9.53" class="tk"/>
<line x1="37.80" y1="164.24" x2="37.80" y2="167.24" class="tk"/>
<line x1="52.70" y1="164.24" x2="52.70" y2="166.04" class="tk"/>
<line x1="67.60" y1="164.24" x2="67.60" y2="167.24" class="tk"/>
<line x1="82.50" y1="164.24" x2="82.50" y2="166.04" class="tk"/>
<line x1="97.40" y1="164.24" x2="97.40" y2="167.24" class="tk"/>
<line x1="112.30" y1="164.24" x2="112.30" y2="166.04" class="tk"/>
<line x1="127.20" y1="164.24" x2="127.20" y2="167.24" class="tk"/>
<line x1="142.10" y1="164.24" x2="142.10" y2="166.04" class="tk"/>
<line x1="157.00" y1="164.24" x2="157.00" y2="167.24" class="tk"/>
<line x1="171.90" y1="164.24" x2="171.90" y2="166.04" class="tk"/>
<line x1="186.80" y1="164.24" x2="186.80" y2="167.24" class="tk"/>
<line x1="201.70" y1="164.24" x2="201.70" y2="166.04" class="tk"/>
<line x1="216.60" y1="164.24" x2="216.60" y2="167.24" class="tk"/>
<line x1="231.50" y1="164.24" x2="231.50" y2="166.04" class="tk"/>
<line x1="246.40" y1="164.24" x2="246.40" y2="167.24" class="tk"/>
<text transform="translate(32.6,167.29) scale(1,1.15)" class="tl" text-anchor="end">−1000</text>
<text transform="translate(32.6,150.10) scale(1,1.15)" class="tl" text-anchor="end">0</text>
<text transform="translate(32.6,132.91) scale(1,1.15)" class="tl" text-anchor="end">1000</text>
<text transform="translate(32.6,115.72) scale(1,1.15)" class="tl" text-anchor="end">2000</text>
<text transform="translate(32.6,98.53) scale(1,1.15)" class="tl" text-anchor="end">3000</text>
<text transform="translate(32.6,81.34) scale(1,1.15)" class="tl" text-anchor="end">4000</text>
<text transform="translate(32.6,64.15) scale(1,1.15)" class="tl" text-anchor="end">5000</text>
<text transform="translate(32.6,46.96) scale(1,1.15)" class="tl" text-anchor="end">6000</text>
<text transform="translate(32.6,29.77) scale(1,1.15)" class="tl" text-anchor="end">7000</text>
<text transform="translate(32.6,12.58) scale(1,1.15)" class="tl" text-anchor="end">8000</text>
<text transform="translate(37.00,176.2) scale(1,1.15)" class="tl" text-anchor="middle">−8</text>
<text transform="translate(66.80,176.2) scale(1,1.15)" class="tl" text-anchor="middle">−6</text>
<text transform="translate(96.60,176.2) scale(1,1.15)" class="tl" text-anchor="middle">−4</text>
<text transform="translate(126.40,176.2) scale(1,1.15)" class="tl" text-anchor="middle">−2</text>
<text transform="translate(157.00,176.2) scale(1,1.15)" class="tl" text-anchor="middle">0</text>
<text transform="translate(186.80,176.2) scale(1,1.15)" class="tl" text-anchor="middle">2</text>
<text transform="translate(216.60,176.2) scale(1,1.15)" class="tl" text-anchor="middle">4</text>
<text transform="translate(246.40,176.2) scale(1,1.15)" class="tl" text-anchor="middle">6</text>
<text transform="translate(141.6,187.7) scale(1,1.08)" class="tt" text-anchor="middle">Collective pitch angle (deg)</text>
<text transform="translate(9.9,87.2) rotate(-90) scale(1,1.08)" class="tt" text-anchor="middle">Rotor lift (lbs)</text>
<text transform="translate(0.8,9.7) scale(1,1.08)" class="lb">(a)</text>
<rect x="38.8" y="11.3" width="62.400000000000006" height="15.0" class="bx"/>
<text x="41.0" y="20.25" class="lg">α<tspan class="sub" dy="2.8">s</tspan><tspan dy="-2.8">=10 deg, B</tspan><tspan class="sub" dy="2.6">1</tspan><tspan dy="-2.6">=0</tspan></text>
</g>
<g transform="translate(250.8,0)">
<line x1="37.80" y1="9.53" x2="37.80" y2="166.74" class="ax"/>
<line x1="35.30" y1="164.24" x2="246.40" y2="164.24" class="ax"/>
<line x1="35.30" y1="164.24" x2="37.80" y2="164.24" class="tk"/>
<line x1="36.30" y1="155.65" x2="37.80" y2="155.65" class="tk"/>
<line x1="35.30" y1="147.05" x2="37.80" y2="147.05" class="tk"/>
<line x1="36.30" y1="138.46" x2="37.80" y2="138.46" class="tk"/>
<line x1="35.30" y1="129.86" x2="37.80" y2="129.86" class="tk"/>
<line x1="36.30" y1="121.27" x2="37.80" y2="121.27" class="tk"/>
<line x1="35.30" y1="112.67" x2="37.80" y2="112.67" class="tk"/>
<line x1="36.30" y1="104.08" x2="37.80" y2="104.08" class="tk"/>
<line x1="35.30" y1="95.48" x2="37.80" y2="95.48" class="tk"/>
<line x1="36.30" y1="86.89" x2="37.80" y2="86.89" class="tk"/>
<line x1="35.30" y1="78.29" x2="37.80" y2="78.29" class="tk"/>
<line x1="36.30" y1="69.70" x2="37.80" y2="69.70" class="tk"/>
<line x1="35.30" y1="61.10" x2="37.80" y2="61.10" class="tk"/>
<line x1="36.30" y1="52.51" x2="37.80" y2="52.51" class="tk"/>
<line x1="35.30" y1="43.91" x2="37.80" y2="43.91" class="tk"/>
<line x1="36.30" y1="35.32" x2="37.80" y2="35.32" class="tk"/>
<line x1="35.30" y1="26.72" x2="37.80" y2="26.72" class="tk"/>
<line x1="36.30" y1="18.12" x2="37.80" y2="18.12" class="tk"/>
<line x1="35.30" y1="9.53" x2="37.80" y2="9.53" class="tk"/>
<line x1="37.80" y1="164.24" x2="37.80" y2="167.24" class="tk"/>
<line x1="52.70" y1="164.24" x2="52.70" y2="166.04" class="tk"/>
<line x1="67.60" y1="164.24" x2="67.60" y2="167.24" class="tk"/>
<line x1="82.50" y1="164.24" x2="82.50" y2="166.04" class="tk"/>
<line x1="97.40" y1="164.24" x2="97.40" y2="167.24" class="tk"/>
<line x1="112.30" y1="164.24" x2="112.30" y2="166.04" class="tk"/>
<line x1="127.20" y1="164.24" x2="127.20" y2="167.24" class="tk"/>
<line x1="142.10" y1="164.24" x2="142.10" y2="166.04" class="tk"/>
<line x1="157.00" y1="164.24" x2="157.00" y2="167.24" class="tk"/>
<line x1="171.90" y1="164.24" x2="171.90" y2="166.04" class="tk"/>
<line x1="186.80" y1="164.24" x2="186.80" y2="167.24" class="tk"/>
<line x1="201.70" y1="164.24" x2="201.70" y2="166.04" class="tk"/>
<line x1="216.60" y1="164.24" x2="216.60" y2="167.24" class="tk"/>
<line x1="231.50" y1="164.24" x2="231.50" y2="166.04" class="tk"/>
<line x1="246.40" y1="164.24" x2="246.40" y2="167.24" class="tk"/>
<text transform="translate(32.6,167.29) scale(1,1.15)" class="tl" text-anchor="end">−1000</text>
<text transform="translate(32.6,150.10) scale(1,1.15)" class="tl" text-anchor="end">0</text>
<text transform="translate(32.6,132.91) scale(1,1.15)" class="tl" text-anchor="end">1000</text>
<text transform="translate(32.6,115.72) scale(1,1.15)" class="tl" text-anchor="end">2000</text>
<text transform="translate(32.6,98.53) scale(1,1.15)" class="tl" text-anchor="end">3000</text>
<text transform="translate(32.6,81.34) scale(1,1.15)" class="tl" text-anchor="end">4000</text>
<text transform="translate(32.6,64.15) scale(1,1.15)" class="tl" text-anchor="end">5000</text>
<text transform="translate(32.6,46.96) scale(1,1.15)" class="tl" text-anchor="end">6000</text>
<text transform="translate(32.6,29.77) scale(1,1.15)" class="tl" text-anchor="end">7000</text>
<text transform="translate(32.6,12.58) scale(1,1.15)" class="tl" text-anchor="end">8000</text>
<text transform="translate(37.00,176.2) scale(1,1.15)" class="tl" text-anchor="middle">−8</text>
<text transform="translate(66.80,176.2) scale(1,1.15)" class="tl" text-anchor="middle">−6</text>
<text transform="translate(96.60,176.2) scale(1,1.15)" class="tl" text-anchor="middle">−4</text>
<text transform="translate(126.40,176.2) scale(1,1.15)" class="tl" text-anchor="middle">−2</text>
<text transform="translate(157.00,176.2) scale(1,1.15)" class="tl" text-anchor="middle">0</text>
<text transform="translate(186.80,176.2) scale(1,1.15)" class="tl" text-anchor="middle">2</text>
<text transform="translate(216.60,176.2) scale(1,1.15)" class="tl" text-anchor="middle">4</text>
<text transform="translate(246.40,176.2) scale(1,1.15)" class="tl" text-anchor="middle">6</text>
<text transform="translate(141.6,187.7) scale(1,1.08)" class="tt" text-anchor="middle">Collective pitch angle (deg)</text>
<text transform="translate(9.9,87.2) rotate(-90) scale(1,1.08)" class="tt" text-anchor="middle">Rotor lift (lbs)</text>
<text transform="translate(0.8,9.7) scale(1,1.08)" class="lb">(b)</text>
<rect x="43.30000000000001" y="11.3" width="56.599999999999966" height="15.0" class="bx"/>
<text x="45.500000000000014" y="20.25" class="lg">α<tspan class="sub" dy="2.8">s</tspan><tspan dy="-2.8">=5 deg, B</tspan><tspan class="sub" dy="2.6">1</tspan><tspan dy="-2.6">=0</tspan></text>
</g>
<g transform="translate(0,202.25)">
<line x1="37.80" y1="9.53" x2="37.80" y2="166.74" class="ax"/>
<line x1="35.30" y1="164.24" x2="246.40" y2="164.24" class="ax"/>
<line x1="35.30" y1="164.24" x2="37.80" y2="164.24" class="tk"/>
<line x1="36.30" y1="155.65" x2="37.80" y2="155.65" class="tk"/>
<line x1="35.30" y1="147.05" x2="37.80" y2="147.05" class="tk"/>
<line x1="36.30" y1="138.46" x2="37.80" y2="138.46" class="tk"/>
<line x1="35.30" y1="129.86" x2="37.80" y2="129.86" class="tk"/>
<line x1="36.30" y1="121.27" x2="37.80" y2="121.27" class="tk"/>
<line x1="35.30" y1="112.67" x2="37.80" y2="112.67" class="tk"/>
<line x1="36.30" y1="104.08" x2="37.80" y2="104.08" class="tk"/>
<line x1="35.30" y1="95.48" x2="37.80" y2="95.48" class="tk"/>
<line x1="36.30" y1="86.89" x2="37.80" y2="86.89" class="tk"/>
<line x1="35.30" y1="78.29" x2="37.80" y2="78.29" class="tk"/>
<line x1="36.30" y1="69.70" x2="37.80" y2="69.70" class="tk"/>
<line x1="35.30" y1="61.10" x2="37.80" y2="61.10" class="tk"/>
<line x1="36.30" y1="52.51" x2="37.80" y2="52.51" class="tk"/>
<line x1="35.30" y1="43.91" x2="37.80" y2="43.91" class="tk"/>
<line x1="36.30" y1="35.32" x2="37.80" y2="35.32" class="tk"/>
<line x1="35.30" y1="26.72" x2="37.80" y2="26.72" class="tk"/>
<line x1="36.30" y1="18.12" x2="37.80" y2="18.12" class="tk"/>
<line x1="35.30" y1="9.53" x2="37.80" y2="9.53" class="tk"/>
<line x1="37.80" y1="164.24" x2="37.80" y2="167.24" class="tk"/>
<line x1="52.70" y1="164.24" x2="52.70" y2="166.04" class="tk"/>
<line x1="67.60" y1="164.24" x2="67.60" y2="167.24" class="tk"/>
<line x1="82.50" y1="164.24" x2="82.50" y2="166.04" class="tk"/>
<line x1="97.40" y1="164.24" x2="97.40" y2="167.24" class="tk"/>
<line x1="112.30" y1="164.24" x2="112.30" y2="166.04" class="tk"/>
<line x1="127.20" y1="164.24" x2="127.20" y2="167.24" class="tk"/>
<line x1="142.10" y1="164.24" x2="142.10" y2="166.04" class="tk"/>
<line x1="157.00" y1="164.24" x2="157.00" y2="167.24" class="tk"/>
<line x1="171.90" y1="164.24" x2="171.90" y2="166.04" class="tk"/>
<line x1="186.80" y1="164.24" x2="186.80" y2="167.24" class="tk"/>
<line x1="201.70" y1="164.24" x2="201.70" y2="166.04" class="tk"/>
<line x1="216.60" y1="164.24" x2="216.60" y2="167.24" class="tk"/>
<line x1="231.50" y1="164.24" x2="231.50" y2="166.04" class="tk"/>
<line x1="246.40" y1="164.24" x2="246.40" y2="167.24" class="tk"/>
<text transform="translate(32.6,167.29) scale(1,1.15)" class="tl" text-anchor="end">−1000</text>
<text transform="translate(32.6,150.10) scale(1,1.15)" class="tl" text-anchor="end">0</text>
<text transform="translate(32.6,132.91) scale(1,1.15)" class="tl" text-anchor="end">1000</text>
<text transform="translate(32.6,115.72) scale(1,1.15)" class="tl" text-anchor="end">2000</text>
<text transform="translate(32.6,98.53) scale(1,1.15)" class="tl" text-anchor="end">3000</text>
<text transform="translate(32.6,81.34) scale(1,1.15)" class="tl" text-anchor="end">4000</text>
<text transform="translate(32.6,64.15) scale(1,1.15)" class="tl" text-anchor="end">5000</text>
<text transform="translate(32.6,46.96) scale(1,1.15)" class="tl" text-anchor="end">6000</text>
<text transform="translate(32.6,29.77) scale(1,1.15)" class="tl" text-anchor="end">7000</text>
<text transform="translate(32.6,12.58) scale(1,1.15)" class="tl" text-anchor="end">8000</text>
<text transform="translate(37.00,176.2) scale(1,1.15)" class="tl" text-anchor="middle">−8</text>
<text transform="translate(66.80,176.2) scale(1,1.15)" class="tl" text-anchor="middle">−6</text>
<text transform="translate(96.60,176.2) scale(1,1.15)" class="tl" text-anchor="middle">−4</text>
<text transform="translate(126.40,176.2) scale(1,1.15)" class="tl" text-anchor="middle">−2</text>
<text transform="translate(157.00,176.2) scale(1,1.15)" class="tl" text-anchor="middle">0</text>
<text transform="translate(186.80,176.2) scale(1,1.15)" class="tl" text-anchor="middle">2</text>
<text transform="translate(216.60,176.2) scale(1,1.15)" class="tl" text-anchor="middle">4</text>
<text transform="translate(246.40,176.2) scale(1,1.15)" class="tl" text-anchor="middle">6</text>
<text transform="translate(141.6,187.7) scale(1,1.08)" class="tt" text-anchor="middle">Collective pitch angle (deg)</text>
<text transform="translate(9.9,87.2) rotate(-90) scale(1,1.08)" class="tt" text-anchor="middle">Rotor lift (lbs)</text>
<text transform="translate(0.8,9.7) scale(1,1.08)" class="lb">(c)</text>
<rect x="42.4" y="11.3" width="56.699999999999996" height="15.0" class="bx"/>
<text x="44.6" y="20.25" class="lg">α<tspan class="sub" dy="2.8">s</tspan><tspan dy="-2.8">=2 deg, B</tspan><tspan class="sub" dy="2.6">1</tspan><tspan dy="-2.6">=0</tspan></text>
</g>
<g transform="translate(250.8,202.25)">
<line x1="37.80" y1="9.53" x2="37.80" y2="166.74" class="ax"/>
<line x1="35.30" y1="164.24" x2="246.40" y2="164.24" class="ax"/>
<line x1="35.30" y1="164.24" x2="37.80" y2="164.24" class="tk"/>
<line x1="36.30" y1="155.65" x2="37.80" y2="155.65" class="tk"/>
<line x1="35.30" y1="147.05" x2="37.80" y2="147.05" class="tk"/>
<line x1="36.30" y1="138.46" x2="37.80" y2="138.46" class="tk"/>
<line x1="35.30" y1="129.86" x2="37.80" y2="129.86" class="tk"/>
<line x1="36.30" y1="121.27" x2="37.80" y2="121.27" class="tk"/>
<line x1="35.30" y1="112.67" x2="37.80" y2="112.67" class="tk"/>
<line x1="36.30" y1="104.08" x2="37.80" y2="104.08" class="tk"/>
<line x1="35.30" y1="95.48" x2="37.80" y2="95.48" class="tk"/>
<line x1="36.30" y1="86.89" x2="37.80" y2="86.89" class="tk"/>
<line x1="35.30" y1="78.29" x2="37.80" y2="78.29" class="tk"/>
<line x1="36.30" y1="69.70" x2="37.80" y2="69.70" class="tk"/>
<line x1="35.30" y1="61.10" x2="37.80" y2="61.10" class="tk"/>
<line x1="36.30" y1="52.51" x2="37.80" y2="52.51" class="tk"/>
<line x1="35.30" y1="43.91" x2="37.80" y2="43.91" class="tk"/>
<line x1="36.30" y1="35.32" x2="37.80" y2="35.32" class="tk"/>
<line x1="35.30" y1="26.72" x2="37.80" y2="26.72" class="tk"/>
<line x1="36.30" y1="18.12" x2="37.80" y2="18.12" class="tk"/>
<line x1="35.30" y1="9.53" x2="37.80" y2="9.53" class="tk"/>
<line x1="37.80" y1="164.24" x2="37.80" y2="167.24" class="tk"/>
<line x1="52.70" y1="164.24" x2="52.70" y2="166.04" class="tk"/>
<line x1="67.60" y1="164.24" x2="67.60" y2="167.24" class="tk"/>
<line x1="82.50" y1="164.24" x2="82.50" y2="166.04" class="tk"/>
<line x1="97.40" y1="164.24" x2="97.40" y2="167.24" class="tk"/>
<line x1="112.30" y1="164.24" x2="112.30" y2="166.04" class="tk"/>
<line x1="127.20" y1="164.24" x2="127.20" y2="167.24" class="tk"/>
<line x1="142.10" y1="164.24" x2="142.10" y2="166.04" class="tk"/>
<line x1="157.00" y1="164.24" x2="157.00" y2="167.24" class="tk"/>
<line x1="171.90" y1="164.24" x2="171.90" y2="166.04" class="tk"/>
<line x1="186.80" y1="164.24" x2="186.80" y2="167.24" class="tk"/>
<line x1="201.70" y1="164.24" x2="201.70" y2="166.04" class="tk"/>
<line x1="216.60" y1="164.24" x2="216.60" y2="167.24" class="tk"/>
<line x1="231.50" y1="164.24" x2="231.50" y2="166.04" class="tk"/>
<line x1="246.40" y1="164.24" x2="246.40" y2="167.24" class="tk"/>
<text transform="translate(32.6,167.29) scale(1,1.15)" class="tl" text-anchor="end">−1000</text>
<text transform="translate(32.6,150.10) scale(1,1.15)" class="tl" text-anchor="end">0</text>
<text transform="translate(32.6,132.91) scale(1,1.15)" class="tl" text-anchor="end">1000</text>
<text transform="translate(32.6,115.72) scale(1,1.15)" class="tl" text-anchor="end">2000</text>
<text transform="translate(32.6,98.53) scale(1,1.15)" class="tl" text-anchor="end">3000</text>
<text transform="translate(32.6,81.34) scale(1,1.15)" class="tl" text-anchor="end">4000</text>
<text transform="translate(32.6,64.15) scale(1,1.15)" class="tl" text-anchor="end">5000</text>
<text transform="translate(32.6,46.96) scale(1,1.15)" class="tl" text-anchor="end">6000</text>
<text transform="translate(32.6,29.77) scale(1,1.15)" class="tl" text-anchor="end">7000</text>
<text transform="translate(32.6,12.58) scale(1,1.15)" class="tl" text-anchor="end">8000</text>
<text transform="translate(37.00,176.2) scale(1,1.15)" class="tl" text-anchor="middle">−8</text>
<text transform="translate(66.80,176.2) scale(1,1.15)" class="tl" text-anchor="middle">−6</text>
<text transform="translate(96.60,176.2) scale(1,1.15)" class="tl" text-anchor="middle">−4</text>
<text transform="translate(126.40,176.2) scale(1,1.15)" class="tl" text-anchor="middle">−2</text>
<text transform="translate(157.00,176.2) scale(1,1.15)" class="tl" text-anchor="middle">0</text>
<text transform="translate(186.80,176.2) scale(1,1.15)" class="tl" text-anchor="middle">2</text>
<text transform="translate(216.60,176.2) scale(1,1.15)" class="tl" text-anchor="middle">4</text>
<text transform="translate(246.40,176.2) scale(1,1.15)" class="tl" text-anchor="middle">6</text>
<text transform="translate(141.6,187.7) scale(1,1.08)" class="tt" text-anchor="middle">Collective pitch angle (deg)</text>
<text transform="translate(9.9,87.2) rotate(-90) scale(1,1.08)" class="tt" text-anchor="middle">Rotor lift (lbs)</text>
<text transform="translate(0.8,9.7) scale(1,1.08)" class="lb">(d)</text>
<rect x="42.30000000000001" y="11.3" width="57.299999999999955" height="15.0" class="bx"/>
<text x="44.500000000000014" y="20.25" class="lg">α<tspan class="sub" dy="2.8">s</tspan><tspan dy="-2.8">=0 deg, B</tspan><tspan class="sub" dy="2.6">1</tspan><tspan dy="-2.6">=0</tspan></text>
</g>
<text transform="translate(43.5,70.90) scale(1,1.1)" class="al">540 ft/s</text>
<line x1="55.00" y1="72.50" x2="63.64" y2="80.04" class="ar"/><polygon points="66.80,82.80 62.49,81.36 64.79,78.72" fill="#222"/>
<text transform="translate(206.5,100.10) scale(1,1.1)" class="al">100 ft/s</text>
<line x1="214.00" y1="91.50" x2="207.80" y2="86.60" class="ar"/><polygon points="204.50,84.00 208.88,85.23 206.71,87.98" fill="#222"/>
<text transform="translate(331,93.10) scale(1,1.1)" class="al">620 ft/s</text>
<line x1="340.00" y1="95.50" x2="347.82" y2="102.25" class="ar"/><polygon points="351.00,105.00 346.68,103.58 348.97,100.93" fill="#222"/>
<text transform="translate(453,135.10) scale(1,1.1)" class="al">100 ft/s</text>
<line x1="462.50" y1="127.00" x2="456.05" y2="120.89" class="ar"/><polygon points="453.00,118.00 457.25,119.62 454.85,122.16" fill="#222"/>
<text transform="translate(103,316.60) scale(1,1.1)" class="al">620 ft/s</text>
<line x1="119.00" y1="318.00" x2="129.62" y2="322.39" class="ar"/><polygon points="133.50,324.00 128.95,324.01 130.29,320.78" fill="#222"/>
<text transform="translate(209,348.60) scale(1,1.1)" class="al">100 ft/s</text>
<line x1="215.00" y1="341.00" x2="205.97" y2="337.87" class="ar"/><polygon points="202.00,336.50 206.54,336.22 205.40,339.53" fill="#222"/>
<text transform="translate(381.5,323.10) scale(1,1.1)" class="al">620 ft/s</text>
<line x1="392.50" y1="324.00" x2="404.65" y2="329.32" class="ar"/><polygon points="408.50,331.00 403.95,330.92 405.35,327.71" fill="#222"/>
<text transform="translate(461.5,359.10) scale(1,1.1)" class="al">100 ft/s</text>
<line x1="466.50" y1="351.00" x2="460.13" y2="345.30" class="ar"/><polygon points="457.00,342.50 461.30,344.00 458.96,346.60" fill="#222"/>
</svg></body></html>
